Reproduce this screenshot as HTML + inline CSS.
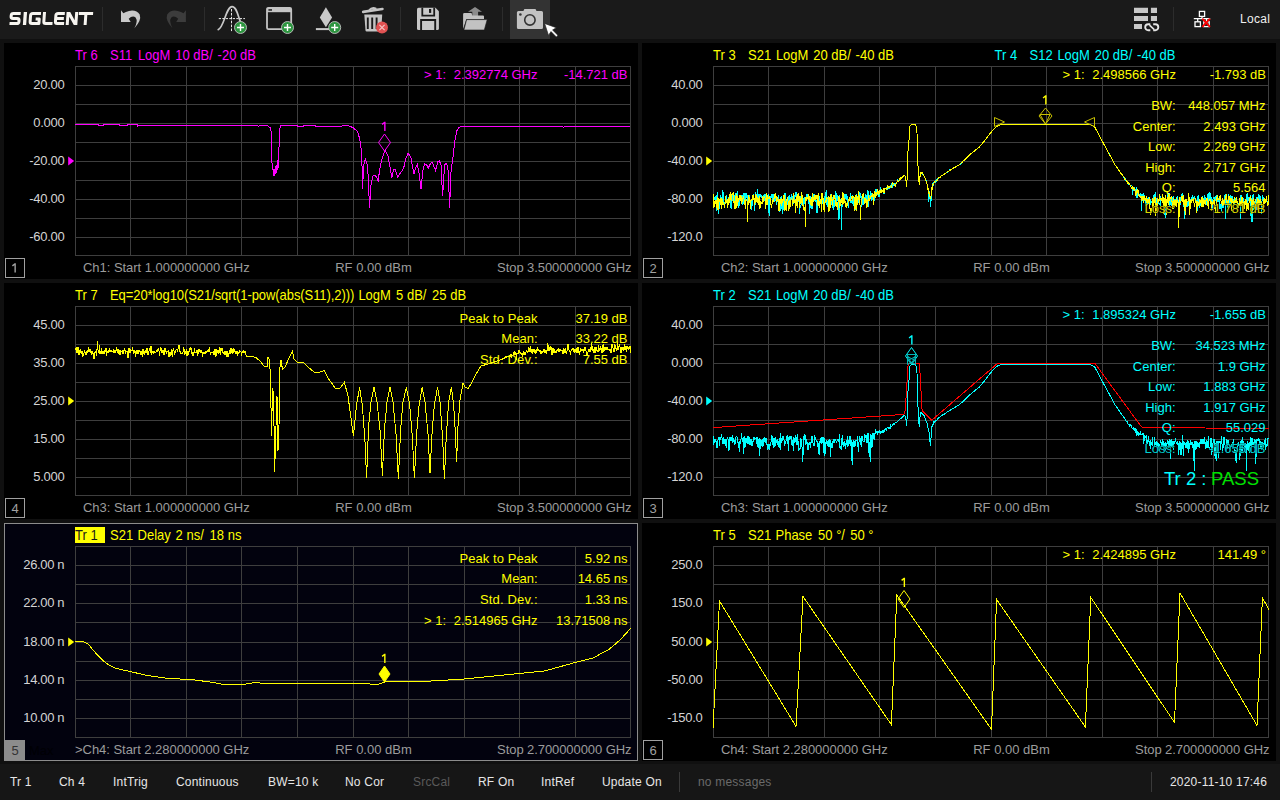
<!DOCTYPE html>
<html><head><meta charset="utf-8"><title>SIGLENT VNA</title>
<style>
html,body{margin:0;padding:0;background:#101010;overflow:hidden}
svg{display:block;font-family:'Liberation Sans',sans-serif}
text{white-space:pre}
</style></head><body>
<svg width="1280" height="800" viewBox="0 0 1280 800">
<rect x="0" y="0" width="1280" height="800" fill="#101010"/>
<rect x="0" y="0" width="1280" height="39" fill="#1a1a1a"/>
<rect x="0" y="764" width="1280" height="36" fill="#161616"/>
<rect x="4" y="43" width="634" height="236" fill="#000"/>
<rect x="642" y="43" width="634" height="236" fill="#000"/>
<rect x="4" y="283" width="634" height="236" fill="#000"/>
<rect x="642" y="283" width="634" height="236" fill="#000"/>
<rect x="4.5" y="523.5" width="633" height="237" fill="#02020e" stroke="#8c8c8c" shape-rendering="crispEdges"/>
<rect x="642" y="523" width="634" height="238" fill="#000"/>
<path d="M75.5,66V256 M130.5,66V256 M186.5,66V256 M241.5,66V256 M297.5,66V256 M353.5,66V256 M408.5,66V256 M464.5,66V256 M519.5,66V256 M575.5,66V256 M630.5,66V256 M75,66.5H631 M75,85.5H631 M75,104.5H631 M75,123.5H631 M75,142.5H631 M75,161.5H631 M75,180.5H631 M75,199.5H631 M75,218.5H631 M75,237.5H631 M75,255.5H631" stroke="#3e3e3e" stroke-width="1" fill="none" shape-rendering="crispEdges"/>
<path d="M713.5,66V256 M768.5,66V256 M824.5,66V256 M879.5,66V256 M935.5,66V256 M991.5,66V256 M1046.5,66V256 M1102.5,66V256 M1157.5,66V256 M1213.5,66V256 M1268.5,66V256 M713,66.5H1269 M713,85.5H1269 M713,104.5H1269 M713,123.5H1269 M713,142.5H1269 M713,161.5H1269 M713,180.5H1269 M713,199.5H1269 M713,218.5H1269 M713,237.5H1269 M713,255.5H1269" stroke="#3e3e3e" stroke-width="1" fill="none" shape-rendering="crispEdges"/>
<path d="M75.5,306V496 M130.5,306V496 M186.5,306V496 M241.5,306V496 M297.5,306V496 M353.5,306V496 M408.5,306V496 M464.5,306V496 M519.5,306V496 M575.5,306V496 M630.5,306V496 M75,306.5H631 M75,325.5H631 M75,344.5H631 M75,363.5H631 M75,382.5H631 M75,401.5H631 M75,420.5H631 M75,439.5H631 M75,458.5H631 M75,477.5H631 M75,495.5H631" stroke="#3e3e3e" stroke-width="1" fill="none" shape-rendering="crispEdges"/>
<path d="M713.5,306V496 M768.5,306V496 M824.5,306V496 M879.5,306V496 M935.5,306V496 M991.5,306V496 M1046.5,306V496 M1102.5,306V496 M1157.5,306V496 M1213.5,306V496 M1268.5,306V496 M713,306.5H1269 M713,325.5H1269 M713,344.5H1269 M713,363.5H1269 M713,382.5H1269 M713,401.5H1269 M713,420.5H1269 M713,439.5H1269 M713,458.5H1269 M713,477.5H1269 M713,495.5H1269" stroke="#3e3e3e" stroke-width="1" fill="none" shape-rendering="crispEdges"/>
<path d="M75.5,546V738 M130.5,546V738 M186.5,546V738 M241.5,546V738 M297.5,546V738 M353.5,546V738 M408.5,546V738 M464.5,546V738 M519.5,546V738 M575.5,546V738 M630.5,546V738 M75,546.5H631 M75,565.5H631 M75,584.5H631 M75,603.5H631 M75,622.5H631 M75,642.5H631 M75,661.5H631 M75,680.5H631 M75,699.5H631 M75,718.5H631 M75,737.5H631" stroke="#3e3e3e" stroke-width="1" fill="none" shape-rendering="crispEdges"/>
<path d="M713.5,546V738 M768.5,546V738 M824.5,546V738 M879.5,546V738 M935.5,546V738 M991.5,546V738 M1046.5,546V738 M1102.5,546V738 M1157.5,546V738 M1213.5,546V738 M1268.5,546V738 M713,546.5H1269 M713,565.5H1269 M713,584.5H1269 M713,603.5H1269 M713,622.5H1269 M713,642.5H1269 M713,661.5H1269 M713,680.5H1269 M713,699.5H1269 M713,718.5H1269 M713,737.5H1269" stroke="#3e3e3e" stroke-width="1" fill="none" shape-rendering="crispEdges"/>
<rect x="5.5" y="258.5" width="19" height="19" fill="none" stroke="#a0a0a0" shape-rendering="crispEdges"/>
<path d="M12.40,265.90L15.10,263.70M15.15,263.20V272.50" fill="none" stroke="#a0a0a0" stroke-width="1.4"/>
<rect x="643.5" y="258.5" width="19" height="19" fill="none" stroke="#a0a0a0" shape-rendering="crispEdges"/>
<text x="653" y="272.5" fill="#a0a0a0" font-size="13" text-anchor="middle" >2</text>
<rect x="5.5" y="498.5" width="19" height="19" fill="none" stroke="#a0a0a0" shape-rendering="crispEdges"/>
<text x="15" y="512.5" fill="#a0a0a0" font-size="13" text-anchor="middle" >4</text>
<rect x="643.5" y="498.5" width="19" height="19" fill="none" stroke="#a0a0a0" shape-rendering="crispEdges"/>
<text x="653" y="512.5" fill="#a0a0a0" font-size="13" text-anchor="middle" >3</text>
<rect x="5" y="740" width="20" height="20" fill="#8c8c8c"/>
<text x="15" y="755" fill="#333" font-size="13" text-anchor="middle" >5</text>
<rect x="643.5" y="740.5" width="19" height="19" fill="none" stroke="#a0a0a0" shape-rendering="crispEdges"/>
<text x="653" y="754.5" fill="#a0a0a0" font-size="13" text-anchor="middle" >6</text>
<text x="29" y="755" fill="#000004" font-size="13" text-anchor="start" >Max</text>
<text x="64.5" y="89" fill="#d4d4d4" font-size="13" text-anchor="end" letter-spacing="-0.25">20.00</text>
<text x="64.5" y="127" fill="#d4d4d4" font-size="13" text-anchor="end" letter-spacing="-0.25">0.000</text>
<text x="64.5" y="165" fill="#d4d4d4" font-size="13" text-anchor="end" letter-spacing="-0.25">-20.00</text>
<text x="64.5" y="203" fill="#d4d4d4" font-size="13" text-anchor="end" letter-spacing="-0.25">-40.00</text>
<text x="64.5" y="241" fill="#d4d4d4" font-size="13" text-anchor="end" letter-spacing="-0.25">-60.00</text>
<path d="M68.2,156.5L74.2,161L68.2,165.5Z" fill="#ff00ff"/>
<text x="702.5" y="89" fill="#d4d4d4" font-size="13" text-anchor="end" letter-spacing="-0.25">40.00</text>
<text x="702.5" y="127" fill="#d4d4d4" font-size="13" text-anchor="end" letter-spacing="-0.25">0.000</text>
<text x="702.5" y="165" fill="#d4d4d4" font-size="13" text-anchor="end" letter-spacing="-0.25">-40.00</text>
<text x="702.5" y="203" fill="#d4d4d4" font-size="13" text-anchor="end" letter-spacing="-0.25">-80.00</text>
<text x="702.5" y="241" fill="#d4d4d4" font-size="13" text-anchor="end" letter-spacing="-0.25">-120.0</text>
<path d="M706.2,156.5L712.2,161L706.2,165.5Z" fill="#ffff00"/>
<text x="64.5" y="329" fill="#d4d4d4" font-size="13" text-anchor="end" letter-spacing="-0.25">45.00</text>
<text x="64.5" y="367" fill="#d4d4d4" font-size="13" text-anchor="end" letter-spacing="-0.25">35.00</text>
<text x="64.5" y="405" fill="#d4d4d4" font-size="13" text-anchor="end" letter-spacing="-0.25">25.00</text>
<text x="64.5" y="443" fill="#d4d4d4" font-size="13" text-anchor="end" letter-spacing="-0.25">15.00</text>
<text x="64.5" y="481" fill="#d4d4d4" font-size="13" text-anchor="end" letter-spacing="-0.25">5.000</text>
<path d="M68.2,396.5L74.2,401L68.2,405.5Z" fill="#ffff00"/>
<text x="702.5" y="329" fill="#d4d4d4" font-size="13" text-anchor="end" letter-spacing="-0.25">40.00</text>
<text x="702.5" y="367" fill="#d4d4d4" font-size="13" text-anchor="end" letter-spacing="-0.25">0.000</text>
<text x="702.5" y="405" fill="#d4d4d4" font-size="13" text-anchor="end" letter-spacing="-0.25">-40.00</text>
<text x="702.5" y="443" fill="#d4d4d4" font-size="13" text-anchor="end" letter-spacing="-0.25">-80.00</text>
<text x="702.5" y="481" fill="#d4d4d4" font-size="13" text-anchor="end" letter-spacing="-0.25">-120.0</text>
<path d="M706.2,396.5L712.2,401L706.2,405.5Z" fill="#00ffff"/>
<text x="64.5" y="569" fill="#d4d4d4" font-size="13" text-anchor="end" textLength="41.2" lengthAdjust="spacing">26.00 n</text>
<text x="64.5" y="607" fill="#d4d4d4" font-size="13" text-anchor="end" textLength="41.2" lengthAdjust="spacing">22.00 n</text>
<text x="64.5" y="646" fill="#d4d4d4" font-size="13" text-anchor="end" textLength="41.2" lengthAdjust="spacing">18.00 n</text>
<text x="64.5" y="684" fill="#d4d4d4" font-size="13" text-anchor="end" textLength="41.2" lengthAdjust="spacing">14.00 n</text>
<text x="64.5" y="722" fill="#d4d4d4" font-size="13" text-anchor="end" textLength="41.2" lengthAdjust="spacing">10.00 n</text>
<path d="M68.2,637.5L74.2,642L68.2,646.5Z" fill="#ffff00"/>
<text x="702.5" y="569" fill="#d4d4d4" font-size="13" text-anchor="end" letter-spacing="-0.25">250.0</text>
<text x="702.5" y="607" fill="#d4d4d4" font-size="13" text-anchor="end" letter-spacing="-0.25">150.0</text>
<text x="702.5" y="646" fill="#d4d4d4" font-size="13" text-anchor="end" letter-spacing="-0.25">50.00</text>
<text x="702.5" y="684" fill="#d4d4d4" font-size="13" text-anchor="end" letter-spacing="-0.25">-50.00</text>
<text x="702.5" y="722" fill="#d4d4d4" font-size="13" text-anchor="end" letter-spacing="-0.25">-150.0</text>
<path d="M706.2,637.5L712.2,642L706.2,646.5Z" fill="#ffff00"/>
<text x="83" y="271.6" fill="#9c9c9c" font-size="13" text-anchor="start" textLength="166.7" lengthAdjust="spacing">Ch1: Start 1.000000000 GHz</text>
<text x="373.5" y="271.6" fill="#9c9c9c" font-size="13" text-anchor="middle" >RF 0.00 dBm</text>
<text x="631.5" y="271.6" fill="#9c9c9c" font-size="13" text-anchor="end" textLength="134.4" lengthAdjust="spacing">Stop 3.500000000 GHz</text>
<text x="721" y="271.6" fill="#9c9c9c" font-size="13" text-anchor="start" textLength="166.7" lengthAdjust="spacing">Ch2: Start 1.000000000 GHz</text>
<text x="1011.5" y="271.6" fill="#9c9c9c" font-size="13" text-anchor="middle" >RF 0.00 dBm</text>
<text x="1269.5" y="271.6" fill="#9c9c9c" font-size="13" text-anchor="end" textLength="134.4" lengthAdjust="spacing">Stop 3.500000000 GHz</text>
<text x="83" y="511.6" fill="#9c9c9c" font-size="13" text-anchor="start" textLength="166.7" lengthAdjust="spacing">Ch3: Start 1.000000000 GHz</text>
<text x="373.5" y="511.6" fill="#9c9c9c" font-size="13" text-anchor="middle" >RF 0.00 dBm</text>
<text x="631.5" y="511.6" fill="#9c9c9c" font-size="13" text-anchor="end" textLength="134.4" lengthAdjust="spacing">Stop 3.500000000 GHz</text>
<text x="721" y="511.6" fill="#9c9c9c" font-size="13" text-anchor="start" textLength="166.7" lengthAdjust="spacing">Ch3: Start 1.000000000 GHz</text>
<text x="1011.5" y="511.6" fill="#9c9c9c" font-size="13" text-anchor="middle" >RF 0.00 dBm</text>
<text x="1269.5" y="511.6" fill="#9c9c9c" font-size="13" text-anchor="end" textLength="134.4" lengthAdjust="spacing">Stop 3.500000000 GHz</text>
<text x="75" y="753.6" fill="#9c9c9c" font-size="13" text-anchor="start" textLength="174.29999999999998" lengthAdjust="spacing">&gt;Ch4: Start 2.280000000 GHz</text>
<text x="373.5" y="753.6" fill="#9c9c9c" font-size="13" text-anchor="middle" >RF 0.00 dBm</text>
<text x="631.5" y="753.6" fill="#9c9c9c" font-size="13" text-anchor="end" textLength="134.4" lengthAdjust="spacing">Stop 2.700000000 GHz</text>
<text x="721" y="753.6" fill="#9c9c9c" font-size="13" text-anchor="start" textLength="166.7" lengthAdjust="spacing">Ch4: Start 2.280000000 GHz</text>
<text x="1011.5" y="753.6" fill="#9c9c9c" font-size="13" text-anchor="middle" >RF 0.00 dBm</text>
<text x="1269.5" y="753.6" fill="#9c9c9c" font-size="13" text-anchor="end" textLength="134.4" lengthAdjust="spacing">Stop 2.700000000 GHz</text>
<polyline points="75.0,124.5 98.0,124.5 98.5,125.5 103.5,125.5 104.0,124.5 119.0,124.5 119.5,125.5 127.0,125.5 127.5,124.5 137.0,124.5 137.6,126.5 138.5,125.5 257.5,125.5 258.5,126.5 259.5,125.5 267.5,125.5 268.5,126.5 270.5,128.0 271.5,134.0 272.0,163.0 272.5,168.0 273.5,171.0 274.0,176.0 274.6,169.0 275.2,174.0 275.8,166.0 276.5,173.0 277.0,165.0 277.6,170.0 278.0,160.0 278.6,168.0 279.0,147.0 279.8,144.0 280.0,128.0 281.0,125.5 297.0,125.5 297.5,126.5 303.5,126.5 304.0,125.5 315.0,125.5 315.5,126.5 340.0,126.4 345.2,125.5 349.0,126.0 353.1,127.7 357.7,131.7 359.7,138.9 361.7,153.3 362.6,188.7 363.6,165.1 365.3,159.2 366.9,162.5 368.2,175.6 369.5,207.8 371.1,183.5 372.8,176.3 374.8,175.0 376.5,176.9 378.1,180.9 379.6,170.4 382.0,158.6 385.3,150.0 387.9,155.9 390.1,167.7 391.8,177.6 393.8,169.1 395.1,169.1 397.7,176.9 400.4,173.0 403.6,168.4 405.6,159.2 408.2,153.0 410.9,157.9 412.8,167.7 413.8,174.3 415.5,167.7 417.4,164.5 419.1,173.0 421.0,188.7 422.7,171.7 424.6,163.8 426.6,164.5 428.2,168.4 430.6,163.1 432.3,162.5 435.5,170.4 437.8,161.8 439.3,160.5 441.0,165.1 442.6,196.0 443.9,175.6 445.0,164.5 446.6,163.1 448.3,171.7 449.6,207.8 450.9,173.0 452.2,162.5 453.5,153.3 454.8,140.8 456.8,131.0 458.8,127.5 462.0,126.5 562.5,126.5 563.5,127.5 564.5,126.5 630.0,126.5" fill="none" stroke="#ff00ff" stroke-width="1" shape-rendering="crispEdges" />
<polyline points="713.0,198.4 713.5,199.3 714.1,198.1 714.6,198.8 715.2,195.7 715.8,201.6 716.3,195.4 716.9,210.7 717.4,192.5 718.0,197.8 718.5,214.4 719.0,209.4 719.6,202.8 720.1,199.4 720.7,195.1 721.2,197.5 721.8,197.3 722.4,202.3 722.9,190.5 723.5,196.6 724.0,203.2 724.5,208.4 725.1,200.3 725.6,200.4 726.2,194.9 726.8,203.3 727.3,199.3 727.9,200.2 728.4,197.5 729.0,202.3 729.5,201.2 730.0,196.0 730.6,202.6 731.1,208.7 731.7,204.2 732.2,199.8 732.8,196.4 733.4,197.4 733.9,200.0 734.5,202.3 735.0,195.5 735.5,194.4 736.1,200.4 736.6,197.4 737.2,191.3 737.8,202.5 738.3,201.4 738.9,208.3 739.4,198.1 740.0,197.9 740.5,199.8 741.0,199.2 741.6,194.8 742.1,204.9 742.7,195.3 743.2,204.0 743.8,193.3 744.4,193.1 744.9,197.8 745.5,207.0 746.0,192.6 746.5,196.8 747.1,195.4 747.6,202.2 748.2,196.6 748.8,203.0 749.3,195.0 749.9,202.4 750.4,203.5 751.0,202.2 751.5,209.6 752.0,200.8 752.6,206.0 753.1,194.4 753.7,197.3 754.2,198.2 754.8,211.0 755.4,193.9 755.9,192.8 756.5,197.5 757.0,196.7 757.5,189.4 758.1,198.5 758.6,194.2 759.2,196.9 759.8,193.9 760.3,197.1 760.9,194.6 761.4,195.9 762.0,198.3 762.5,200.8 763.0,198.1 763.6,197.5 764.1,194.5 764.7,200.6 765.2,198.3 765.8,195.3 766.4,196.2 766.9,197.9 767.5,203.5 768.0,199.3 768.5,193.9 769.1,216.1 769.6,197.2 770.2,204.5 770.8,197.3 771.3,194.5 771.9,197.4 772.4,200.0 773.0,194.0 773.5,200.5 774.0,201.9 774.6,199.2 775.1,195.0 775.7,193.2 776.2,204.7 776.8,202.7 777.4,200.3 777.9,199.4 778.5,195.3 779.0,199.6 779.5,211.2 780.1,210.3 780.6,198.5 781.2,195.9 781.8,205.3 782.3,214.0 782.9,203.0 783.4,209.8 784.0,200.1 784.5,197.6 785.0,193.0 785.6,204.1 786.1,204.8 786.7,199.4 787.2,204.5 787.8,201.3 788.4,199.1 788.9,196.5 789.5,196.0 790.0,207.2 790.5,196.6 791.1,199.7 791.6,194.2 792.2,198.6 792.8,195.8 793.3,199.5 793.9,204.1 794.4,195.6 795.0,196.9 795.5,194.3 796.0,192.2 796.6,196.1 797.1,194.2 797.7,201.1 798.2,199.8 798.8,196.4 799.4,213.6 799.9,208.7 800.5,204.5 801.0,196.1 801.5,205.1 802.1,196.9 802.6,197.1 803.2,199.2 803.8,207.2 804.3,199.0 804.9,196.8 805.4,199.2 806.0,198.5 806.5,201.0 807.0,194.3 807.6,195.1 808.1,198.9 808.7,204.4 809.2,199.6 809.8,213.5 810.4,198.9 810.9,196.0 811.5,199.7 812.0,209.2 812.5,200.7 813.1,193.8 813.6,199.7 814.2,200.0 814.8,194.4 815.3,202.2 815.9,198.0 816.4,205.5 817.0,213.1 817.5,203.3 818.0,201.9 818.6,198.2 819.1,196.6 819.7,199.1 820.2,204.1 820.8,200.5 821.4,200.7 821.9,205.7 822.5,197.8 823.0,199.3 823.5,198.0 824.1,203.0 824.6,195.8 825.2,201.5 825.8,194.1 826.3,190.2 826.9,205.2 827.4,196.8 828.0,207.3 828.5,200.1 829.0,205.9 829.6,197.6 830.1,203.3 830.7,194.4 831.2,205.4 831.8,196.9 832.4,197.8 832.9,207.9 833.5,209.5 834.0,199.9 834.5,206.9 835.1,203.5 835.6,191.5 836.2,205.8 836.8,193.0 837.3,197.0 837.9,200.2 838.4,201.3 839.0,220.1 839.5,195.5 840.0,199.6 840.6,200.7 841.1,204.2 841.7,230.2 842.2,195.4 842.8,195.3 843.4,201.6 843.9,200.4 844.5,195.2 845.0,194.3 845.5,196.3 846.1,199.9 846.6,194.2 847.2,196.7 847.8,200.3 848.3,208.2 848.9,200.7 849.4,199.4 850.0,199.0 850.5,193.5 851.0,202.7 851.6,199.6 852.1,203.9 852.7,196.2 853.2,196.9 853.8,205.6 854.4,198.2 854.9,200.3 855.5,200.5 856.0,209.9 856.5,194.3 857.1,203.1 857.6,196.2 858.2,195.5 858.8,203.1 859.3,198.9 859.9,192.2 860.4,197.3 861.0,197.1 861.5,207.4 862.0,196.5 862.6,204.4 863.1,204.5 863.7,200.4 864.2,196.9 864.8,202.5 865.4,201.4 865.9,194.0 866.5,197.5 867.0,200.4 867.5,190.7 868.1,191.3 868.6,206.6 869.2,195.4 869.8,199.9 870.3,197.2 870.9,191.3 871.4,200.3 872.0,200.5 872.5,196.7 873.0,200.0 873.6,205.1 874.1,200.6 874.7,200.4 875.2,193.5 875.8,188.6 876.4,194.6 876.9,189.4 877.5,192.1 878.0,195.3 878.5,194.1 879.1,197.0 879.6,192.5 880.2,189.6 880.8,188.0 881.3,190.9 881.9,191.4 882.4,192.0 883.0,191.8 883.5,187.9 884.0,193.8 884.6,191.5 885.1,188.9 885.7,188.6 886.2,188.1 886.8,187.5 887.4,188.1 887.9,189.3 888.5,187.0 889.0,189.0 889.5,187.8 890.1,186.2 890.6,187.8 891.2,184.0 891.8,185.4 892.3,187.0 892.9,185.6 893.4,184.8 894.0,184.1 894.5,183.5 895.0,184.0 895.6,183.5 896.1,183.8 896.7,182.6 897.2,182.0 897.8,179.8 898.4,180.1 898.9,180.0 899.5,179.9 900.0,178.0 900.5,178.6 901.1,178.5 901.6,178.1 902.2,177.0 902.8,176.6 903.3,176.1 903.9,175.6 904.4,175.2 905.0,175.8 905.5,178.4 906.0,179.6 906.6,186.5 907.1,178.7 907.7,154.9 908.2,148.7 908.8,142.5 909.4,134.9 909.9,126.3 910.5,125.7 911.0,125.1 911.5,124.6 912.1,124.5 912.6,124.5 913.2,124.5 913.8,124.5 914.3,124.5 914.9,124.5 915.4,124.9 916.0,125.7 916.5,126.5 917.0,133.1 917.6,155.0 918.1,168.8 918.7,178.0 919.2,185.0 919.8,179.2 920.4,172.2 920.9,172.0 921.5,172.8 922.0,173.1 922.5,174.5 923.1,174.3 923.6,174.9 924.2,176.0 924.8,177.9 925.3,178.9 925.9,180.0 926.4,182.4 927.0,183.8 927.5,186.6 928.0,188.1 928.6,201.7 929.1,198.4 929.7,190.9 930.2,199.2 930.8,206.5 931.4,191.0 931.9,187.8 932.5,184.5 933.0,185.8 933.5,183.3 934.1,182.3 934.6,182.3 935.2,180.9 935.8,182.3 936.3,180.4 936.9,179.2 937.4,178.3 938.0,178.2 938.5,177.9 939.0,177.8 939.6,177.9 940.1,176.4 940.7,176.3 941.2,176.1 941.8,175.7 942.4,175.3 942.9,175.4 943.5,174.3 944.0,174.4 944.5,173.6 945.1,173.9 945.6,173.4 946.2,172.5 946.8,173.0 947.3,171.8 947.9,171.4 948.4,171.3 949.0,171.1 949.5,170.0 950.0,170.2 950.6,170.1 951.1,169.8 951.7,169.3 952.2,169.1 952.8,168.6 953.4,168.3 953.9,167.8 954.5,167.6 955.0,167.3 955.5,166.9 956.1,166.7 956.6,166.2 957.2,165.9 957.8,165.6 958.3,165.3 958.9,165.0 959.4,164.6 960.0,164.4 960.5,163.7 961.0,163.3 961.6,162.7 962.2,162.2 962.7,161.5 963.2,161.1 963.8,160.5 964.4,160.1 964.9,159.5 965.5,159.1 966.0,158.4 966.5,157.9 967.1,157.3 967.7,156.9 968.2,156.3 968.8,155.8 969.3,155.3 969.9,154.7 970.4,154.2 971.0,153.8 971.5,153.4 972.0,152.9 972.6,152.5 973.2,152.0 973.7,151.5 974.2,151.1 974.8,150.7 975.4,150.2 975.9,149.8 976.5,149.3 977.0,148.9 977.5,148.5 978.1,148.0 978.7,147.6 979.2,147.1 979.8,146.4 980.3,145.8 980.9,145.1 981.4,144.5 982.0,143.8 982.5,143.2 983.0,142.6 983.6,141.9 984.2,141.3 984.7,140.6 985.2,139.8 985.8,139.1 986.4,138.3 986.9,137.6 987.5,136.9 988.0,136.1 988.5,135.4 989.1,134.6 989.7,133.9 990.2,133.3 990.8,132.7 991.3,132.0 991.9,131.4 992.4,130.8 993.0,130.1 993.5,129.5 994.0,128.9 994.6,128.2 995.2,127.7 995.7,127.3 996.2,126.9 996.8,126.5 997.4,126.1 997.9,125.7 998.5,125.4 999.0,125.2 999.5,125.1 1000.1,124.9 1000.7,124.8 1001.2,124.7 1001.8,124.5 1002.3,124.5 1002.9,124.5 1003.4,124.5 1004.0,124.5 1004.5,124.5 1005.0,124.5 1005.6,124.5 1006.2,124.5 1006.7,124.5 1007.2,124.5 1007.8,124.5 1008.4,124.5 1008.9,124.5 1009.5,124.5 1010.0,124.5 1010.5,124.5 1011.1,124.5 1011.7,124.5 1012.2,124.5 1012.8,124.5 1013.3,124.5 1013.9,124.5 1014.4,124.5 1015.0,124.5 1015.5,124.5 1016.0,124.5 1016.6,124.5 1017.2,124.5 1017.7,124.5 1018.2,124.5 1018.8,124.5 1019.4,124.5 1019.9,124.5 1020.5,124.5 1021.0,124.5 1021.5,124.5 1022.1,124.5 1022.7,124.5 1023.2,124.5 1023.8,124.5 1024.3,124.5 1024.8,124.5 1025.4,124.5 1026.0,124.5 1026.5,124.5 1027.0,124.5 1027.6,124.5 1028.2,124.5 1028.7,124.5 1029.2,124.5 1029.8,124.5 1030.3,124.5 1030.9,124.5 1031.5,124.5 1032.0,124.5 1032.5,124.5 1033.1,124.5 1033.7,124.5 1034.2,124.5 1034.8,124.5 1035.3,124.5 1035.8,124.5 1036.4,124.5 1037.0,124.5 1037.5,124.5 1038.0,124.5 1038.6,124.5 1039.2,124.5 1039.7,124.5 1040.2,124.5 1040.8,124.5 1041.3,124.5 1041.9,124.5 1042.5,124.5 1043.0,124.5 1043.5,124.5 1044.1,124.5 1044.7,124.5 1045.2,124.5 1045.8,124.5 1046.3,124.5 1046.8,124.5 1047.4,124.5 1048.0,124.5 1048.5,124.5 1049.0,124.5 1049.6,124.5 1050.2,124.5 1050.7,124.5 1051.2,124.5 1051.8,124.5 1052.3,124.5 1052.9,124.5 1053.5,124.5 1054.0,124.5 1054.5,124.5 1055.1,124.5 1055.7,124.5 1056.2,124.5 1056.8,124.5 1057.3,124.5 1057.8,124.5 1058.4,124.5 1059.0,124.5 1059.5,124.5 1060.0,124.5 1060.6,124.5 1061.2,124.5 1061.7,124.5 1062.2,124.5 1062.8,124.5 1063.3,124.5 1063.9,124.5 1064.5,124.5 1065.0,124.5 1065.5,124.5 1066.1,124.5 1066.7,124.5 1067.2,124.5 1067.8,124.5 1068.3,124.5 1068.8,124.5 1069.4,124.5 1070.0,124.5 1070.5,124.5 1071.0,124.5 1071.6,124.5 1072.2,124.5 1072.7,124.5 1073.2,124.5 1073.8,124.5 1074.3,124.5 1074.9,124.5 1075.5,124.5 1076.0,124.5 1076.5,124.5 1077.1,124.5 1077.7,124.5 1078.2,124.5 1078.8,124.5 1079.3,124.5 1079.8,124.5 1080.4,124.5 1081.0,124.5 1081.5,124.5 1082.0,124.5 1082.6,124.5 1083.2,124.5 1083.7,124.5 1084.2,124.5 1084.8,124.5 1085.3,124.5 1085.9,124.5 1086.5,124.5 1087.0,124.5 1087.5,124.5 1088.1,124.5 1088.7,124.6 1089.2,124.7 1089.8,124.8 1090.3,124.9 1090.8,125.0 1091.4,125.2 1092.0,125.4 1092.5,125.6 1093.0,125.9 1093.6,126.1 1094.2,126.3 1094.7,126.9 1095.2,127.9 1095.8,129.0 1096.3,130.0 1096.9,131.0 1097.5,132.1 1098.0,133.1 1098.5,134.2 1099.1,135.2 1099.7,136.2 1100.2,137.3 1100.8,138.3 1101.3,139.4 1101.8,140.4 1102.4,141.4 1103.0,142.5 1103.5,143.5 1104.0,144.5 1104.6,145.5 1105.2,146.5 1105.7,147.5 1106.2,148.6 1106.8,149.6 1107.3,150.6 1107.9,151.6 1108.5,152.6 1109.0,153.6 1109.5,154.6 1110.1,155.7 1110.7,156.7 1111.2,157.7 1111.8,158.7 1112.3,159.8 1112.8,160.7 1113.4,161.8 1114.0,162.8 1114.5,163.7 1115.0,164.7 1115.6,165.6 1116.2,166.3 1116.7,167.4 1117.2,167.9 1117.8,168.8 1118.3,169.6 1118.9,169.8 1119.5,170.8 1120.0,171.8 1120.5,172.7 1121.1,173.3 1121.7,174.3 1122.2,175.4 1122.8,176.0 1123.3,176.3 1123.8,177.5 1124.4,178.8 1125.0,178.5 1125.5,180.0 1126.0,180.4 1126.6,181.2 1127.2,181.6 1127.7,183.1 1128.2,183.3 1128.8,184.3 1129.3,184.9 1129.9,184.6 1130.5,186.0 1131.0,185.6 1131.5,185.7 1132.1,186.4 1132.7,195.3 1133.2,186.9 1133.8,190.7 1134.3,188.5 1134.8,187.8 1135.4,191.7 1136.0,190.3 1136.5,186.9 1137.0,197.7 1137.6,192.7 1138.2,191.6 1138.7,192.8 1139.2,196.3 1139.8,195.3 1140.3,193.1 1140.9,195.3 1141.5,210.8 1142.0,193.6 1142.5,201.2 1143.1,193.3 1143.7,196.4 1144.2,194.8 1144.8,199.7 1145.3,199.1 1145.8,206.1 1146.4,204.8 1147.0,198.5 1147.5,201.4 1148.0,204.3 1148.6,197.9 1149.2,198.1 1149.7,202.2 1150.2,199.2 1150.8,205.2 1151.3,201.3 1151.9,203.2 1152.5,197.6 1153.0,206.8 1153.5,196.1 1154.1,195.4 1154.7,198.3 1155.2,192.2 1155.8,195.2 1156.3,200.9 1156.8,206.0 1157.4,198.7 1158.0,200.9 1158.5,201.4 1159.0,203.8 1159.6,203.3 1160.2,206.4 1160.7,196.4 1161.2,198.5 1161.8,201.0 1162.3,196.2 1162.9,201.5 1163.5,202.1 1164.0,205.7 1164.5,200.4 1165.1,217.9 1165.7,201.9 1166.2,200.1 1166.8,205.3 1167.3,192.8 1167.8,203.2 1168.4,192.9 1169.0,196.6 1169.5,192.7 1170.0,205.7 1170.6,198.7 1171.2,196.4 1171.7,200.3 1172.2,208.6 1172.8,198.0 1173.3,197.1 1173.9,200.8 1174.5,204.8 1175.0,199.1 1175.5,199.6 1176.1,200.7 1176.7,197.2 1177.2,197.4 1177.8,195.9 1178.3,206.3 1178.8,209.2 1179.4,202.2 1180.0,196.6 1180.5,205.2 1181.0,196.7 1181.6,195.9 1182.2,192.9 1182.7,199.1 1183.2,197.9 1183.8,198.7 1184.3,218.8 1184.9,203.4 1185.5,204.2 1186.0,198.7 1186.5,207.1 1187.1,201.2 1187.7,207.3 1188.2,199.2 1188.8,205.8 1189.3,198.3 1189.8,202.6 1190.4,202.0 1191.0,199.1 1191.5,197.1 1192.0,201.5 1192.6,195.0 1193.2,198.5 1193.7,199.8 1194.2,196.3 1194.8,196.6 1195.3,201.4 1195.9,201.9 1196.5,199.6 1197.0,211.1 1197.5,204.1 1198.1,194.7 1198.7,198.6 1199.2,204.6 1199.8,207.7 1200.3,204.1 1200.8,203.1 1201.4,196.6 1202.0,200.4 1202.5,195.8 1203.0,202.3 1203.6,198.3 1204.2,202.9 1204.7,194.7 1205.2,199.1 1205.8,202.8 1206.3,203.5 1206.9,199.6 1207.5,193.8 1208.0,201.9 1208.6,199.0 1209.1,191.9 1209.7,201.1 1210.2,199.1 1210.8,193.0 1211.3,202.4 1211.8,202.0 1212.4,209.4 1213.0,199.0 1213.5,198.1 1214.1,197.2 1214.6,197.7 1215.2,201.1 1215.7,196.4 1216.2,195.9 1216.8,202.6 1217.3,200.6 1217.9,197.4 1218.5,200.8 1219.0,199.9 1219.6,208.8 1220.1,203.9 1220.7,204.5 1221.2,211.7 1221.8,201.4 1222.3,201.5 1222.8,208.2 1223.4,206.5 1224.0,200.4 1224.5,199.7 1225.1,194.3 1225.6,219.2 1226.2,197.1 1226.7,198.4 1227.2,200.4 1227.8,207.8 1228.3,194.3 1228.9,196.8 1229.5,201.7 1230.0,204.1 1230.6,195.5 1231.1,201.1 1231.7,196.2 1232.2,200.0 1232.8,195.9 1233.3,203.8 1233.8,204.4 1234.4,201.9 1235.0,202.9 1235.5,201.6 1236.1,196.9 1236.6,200.4 1237.2,202.3 1237.7,208.6 1238.2,203.5 1238.8,205.2 1239.3,201.1 1239.9,201.9 1240.5,218.5 1241.0,194.6 1241.6,199.9 1242.1,203.8 1242.7,200.0 1243.2,201.0 1243.8,198.1 1244.3,208.7 1244.8,204.2 1245.4,201.8 1246.0,202.1 1246.5,198.9 1247.1,193.5 1247.6,203.1 1248.2,197.2 1248.7,199.3 1249.2,197.8 1249.8,199.4 1250.3,195.5 1250.9,215.5 1251.5,198.0 1252.0,222.2 1252.6,202.0 1253.1,193.6 1253.7,209.6 1254.2,201.7 1254.8,202.5 1255.3,201.9 1255.8,203.3 1256.4,210.2 1257.0,197.0 1257.5,200.5 1258.1,207.8 1258.6,194.8 1259.2,195.7 1259.7,202.0 1260.2,197.1 1260.8,196.4 1261.3,214.3 1261.9,202.7 1262.5,195.5 1263.0,198.9 1263.6,197.9 1264.1,198.2 1264.7,200.0 1265.2,203.0 1265.8,202.9 1266.3,200.9 1266.8,200.2 1267.4,202.8 1268.0,201.3 1268.5,203.1" fill="none" stroke="#00ffff" stroke-width="1" shape-rendering="crispEdges" />
<polyline points="713.0,194.0 713.5,208.3 714.1,201.1 714.6,206.9 715.2,200.7 715.8,200.5 716.3,208.1 716.9,201.0 717.4,197.4 718.0,210.4 718.5,199.0 719.0,198.7 719.6,201.7 720.1,201.7 720.7,198.3 721.2,208.6 721.8,197.7 722.4,200.8 722.9,205.3 723.5,202.3 724.0,204.7 724.5,207.6 725.1,203.0 725.6,196.4 726.2,201.8 726.8,202.8 727.3,199.5 727.9,207.5 728.4,197.7 729.0,203.8 729.5,194.8 730.0,194.2 730.6,193.1 731.1,201.0 731.7,196.4 732.2,193.3 732.8,194.1 733.4,192.5 733.9,202.1 734.5,201.5 735.0,208.9 735.5,205.1 736.1,194.0 736.6,207.6 737.2,205.8 737.8,196.5 738.3,201.1 738.9,200.7 739.4,195.3 740.0,195.2 740.5,201.3 741.0,196.3 741.6,204.1 742.1,201.3 742.7,199.4 743.2,196.4 743.8,198.5 744.4,199.5 744.9,203.7 745.5,208.5 746.0,199.8 746.5,199.4 747.1,200.9 747.6,221.6 748.2,196.9 748.8,195.7 749.3,198.0 749.9,200.7 750.4,209.2 751.0,200.4 751.5,199.7 752.0,200.0 752.6,195.3 753.1,195.5 753.7,200.1 754.2,198.2 754.8,203.2 755.4,202.2 755.9,193.9 756.5,201.7 757.0,196.6 757.5,199.7 758.1,203.3 758.6,204.2 759.2,196.0 759.8,208.0 760.3,207.5 760.9,201.1 761.4,203.5 762.0,203.7 762.5,198.5 763.0,196.5 763.6,202.0 764.1,196.2 764.7,197.4 765.2,198.3 765.8,209.2 766.4,198.3 766.9,193.2 767.5,205.0 768.0,198.8 768.5,197.5 769.1,198.0 769.6,197.2 770.2,199.0 770.8,202.7 771.3,208.0 771.9,204.6 772.4,202.9 773.0,200.0 773.5,200.9 774.0,198.6 774.6,194.8 775.1,195.6 775.7,192.9 776.2,201.6 776.8,196.3 777.4,201.3 777.9,197.3 778.5,205.0 779.0,210.9 779.5,201.2 780.1,199.1 780.6,204.2 781.2,198.4 781.8,206.0 782.3,199.3 782.9,199.6 783.4,201.3 784.0,195.0 784.5,198.3 785.0,210.7 785.6,201.5 786.1,211.0 786.7,201.4 787.2,197.4 787.8,198.4 788.4,205.8 788.9,210.6 789.5,200.3 790.0,207.7 790.5,200.4 791.1,198.6 791.6,199.0 792.2,199.1 792.8,205.5 793.3,193.3 793.9,203.3 794.4,200.0 795.0,203.0 795.5,213.3 796.0,199.4 796.6,205.8 797.1,194.4 797.7,207.9 798.2,193.5 798.8,196.4 799.4,208.4 799.9,197.8 800.5,198.6 801.0,203.9 801.5,192.4 802.1,195.9 802.6,197.6 803.2,209.6 803.8,205.4 804.3,210.0 804.9,206.8 805.4,227.2 806.0,197.3 806.5,199.7 807.0,198.7 807.6,196.8 808.1,199.5 808.7,195.5 809.2,196.3 809.8,202.4 810.4,199.2 810.9,204.6 811.5,196.9 812.0,206.3 812.5,193.5 813.1,201.5 813.6,197.0 814.2,200.2 814.8,194.9 815.3,196.3 815.9,199.3 816.4,197.8 817.0,195.0 817.5,200.1 818.0,205.3 818.6,193.2 819.1,208.1 819.7,202.1 820.2,200.7 820.8,199.7 821.4,212.1 821.9,192.6 822.5,197.7 823.0,199.5 823.5,197.6 824.1,212.3 824.6,203.2 825.2,200.9 825.8,202.4 826.3,200.9 826.9,197.3 827.4,198.8 828.0,198.0 828.5,195.7 829.0,212.0 829.6,197.0 830.1,208.3 830.7,197.3 831.2,194.2 831.8,198.4 832.4,205.5 832.9,200.3 833.5,194.7 834.0,199.5 834.5,194.8 835.1,198.2 835.6,202.5 836.2,207.1 836.8,201.6 837.3,209.5 837.9,203.7 838.4,196.7 839.0,196.7 839.5,207.6 840.0,205.9 840.6,200.2 841.1,202.9 841.7,198.2 842.2,204.5 842.8,193.2 843.4,193.5 843.9,204.1 844.5,197.7 845.0,202.6 845.5,200.9 846.1,207.7 846.6,204.5 847.2,205.9 847.8,204.4 848.3,199.8 848.9,200.8 849.4,197.4 850.0,200.5 850.5,200.8 851.0,199.1 851.6,196.5 852.1,196.3 852.7,200.6 853.2,196.8 853.8,196.5 854.4,198.6 854.9,210.8 855.5,200.6 856.0,194.8 856.5,211.3 857.1,196.6 857.6,204.9 858.2,197.2 858.8,191.5 859.3,200.4 859.9,200.6 860.4,219.9 861.0,204.8 861.5,202.0 862.0,199.0 862.6,196.9 863.1,193.3 863.7,194.7 864.2,199.9 864.8,204.1 865.4,200.4 865.9,198.8 866.5,199.4 867.0,207.5 867.5,200.5 868.1,200.5 868.6,195.0 869.2,199.7 869.8,200.6 870.3,195.8 870.9,197.5 871.4,195.5 872.0,194.8 872.5,196.0 873.0,193.6 873.6,204.6 874.1,195.7 874.7,191.5 875.2,191.9 875.8,197.9 876.4,191.9 876.9,195.0 877.5,190.0 878.0,190.7 878.5,194.5 879.1,190.0 879.6,194.0 880.2,190.2 880.8,192.5 881.3,189.0 881.9,192.0 882.4,190.7 883.0,190.2 883.5,189.1 884.0,193.3 884.6,188.8 885.1,187.9 885.7,188.8 886.2,188.4 886.8,189.1 887.4,188.3 887.9,185.9 888.5,187.4 889.0,187.1 889.5,187.1 890.1,186.3 890.6,186.5 891.2,187.2 891.8,185.7 892.3,184.1 892.9,182.8 893.4,183.9 894.0,184.0 894.5,185.0 895.0,183.7 895.6,185.5 896.1,183.8 896.7,182.4 897.2,181.3 897.8,180.9 898.4,181.0 898.9,181.0 899.5,178.6 900.0,179.5 900.5,177.8 901.1,178.3 901.6,177.6 902.2,177.7 902.8,176.4 903.3,176.3 903.9,175.4 904.4,175.4 905.0,176.2 905.5,177.5 906.0,180.8 906.6,186.9 907.1,178.1 907.7,154.9 908.2,148.7 908.8,142.5 909.4,134.9 909.9,126.3 910.5,125.7 911.0,125.1 911.5,124.6 912.1,124.5 912.6,124.5 913.2,124.5 913.8,124.5 914.3,124.5 914.9,124.5 915.4,124.9 916.0,125.7 916.5,126.5 917.0,133.1 917.6,155.0 918.1,168.9 918.7,177.7 919.2,184.7 919.8,179.0 920.4,172.1 920.9,172.2 921.5,172.5 922.0,173.5 922.5,173.1 923.1,174.5 923.6,175.1 924.2,176.1 924.8,177.0 925.3,179.5 925.9,180.5 926.4,182.1 927.0,184.0 927.5,189.5 928.0,187.8 928.6,194.2 929.1,192.3 929.7,194.5 930.2,198.3 930.8,197.2 931.4,194.0 931.9,188.4 932.5,189.0 933.0,184.6 933.5,183.6 934.1,183.1 934.6,181.4 935.2,181.1 935.8,181.5 936.3,180.3 936.9,180.7 937.4,179.6 938.0,179.1 938.5,178.7 939.0,177.3 939.6,177.6 940.1,177.3 940.7,176.7 941.2,176.0 941.8,175.7 942.4,175.6 942.9,175.2 943.5,174.6 944.0,174.3 944.5,174.3 945.1,173.4 945.6,173.6 946.2,172.9 946.8,172.0 947.3,171.7 947.9,171.5 948.4,171.2 949.0,170.9 949.5,170.4 950.0,170.5 950.6,170.1 951.1,169.5 951.7,169.2 952.2,168.9 952.8,168.6 953.4,168.4 953.9,167.8 954.5,167.6 955.0,167.4 955.5,166.7 956.1,166.5 956.6,166.4 957.2,166.0 957.8,165.6 958.3,165.3 958.9,164.9 959.4,164.6 960.0,164.2 960.5,163.7 961.0,163.1 961.6,162.6 962.2,162.2 962.7,161.6 963.2,161.0 963.8,160.5 964.4,160.0 964.9,159.5 965.5,158.9 966.0,158.4 966.5,157.9 967.1,157.4 967.7,156.9 968.2,156.3 968.8,155.8 969.3,155.2 969.9,154.7 970.4,154.2 971.0,153.7 971.5,153.3 972.0,152.9 972.6,152.5 973.2,152.0 973.7,151.6 974.2,151.1 974.8,150.6 975.4,150.2 975.9,149.8 976.5,149.3 977.0,148.9 977.5,148.5 978.1,148.0 978.7,147.6 979.2,147.1 979.8,146.4 980.3,145.8 980.9,145.1 981.4,144.5 982.0,143.9 982.5,143.2 983.0,142.6 983.6,141.9 984.2,141.3 984.7,140.6 985.2,139.8 985.8,139.1 986.4,138.3 986.9,137.6 987.5,136.9 988.0,136.1 988.5,135.4 989.1,134.6 989.7,133.9 990.2,133.3 990.8,132.7 991.3,132.0 991.9,131.4 992.4,130.8 993.0,130.1 993.5,129.5 994.0,128.9 994.6,128.2 995.2,127.7 995.7,127.3 996.2,126.9 996.8,126.5 997.4,126.1 997.9,125.7 998.5,125.4 999.0,125.2 999.5,125.1 1000.1,124.9 1000.7,124.8 1001.2,124.7 1001.8,124.5 1002.3,124.5 1002.9,124.5 1003.4,124.5 1004.0,124.5 1004.5,124.5 1005.0,124.5 1005.6,124.5 1006.2,124.5 1006.7,124.5 1007.2,124.5 1007.8,124.5 1008.4,124.5 1008.9,124.5 1009.5,124.5 1010.0,124.5 1010.5,124.5 1011.1,124.5 1011.7,124.5 1012.2,124.5 1012.8,124.5 1013.3,124.5 1013.9,124.5 1014.4,124.5 1015.0,124.5 1015.5,124.5 1016.0,124.5 1016.6,124.5 1017.2,124.5 1017.7,124.5 1018.2,124.5 1018.8,124.5 1019.4,124.5 1019.9,124.5 1020.5,124.5 1021.0,124.5 1021.5,124.5 1022.1,124.5 1022.7,124.5 1023.2,124.5 1023.8,124.5 1024.3,124.5 1024.8,124.5 1025.4,124.5 1026.0,124.5 1026.5,124.5 1027.0,124.5 1027.6,124.5 1028.2,124.5 1028.7,124.5 1029.2,124.5 1029.8,124.5 1030.3,124.5 1030.9,124.5 1031.5,124.5 1032.0,124.5 1032.5,124.5 1033.1,124.5 1033.7,124.5 1034.2,124.5 1034.8,124.5 1035.3,124.5 1035.8,124.5 1036.4,124.5 1037.0,124.5 1037.5,124.5 1038.0,124.5 1038.6,124.5 1039.2,124.5 1039.7,124.5 1040.2,124.5 1040.8,124.5 1041.3,124.5 1041.9,124.5 1042.5,124.5 1043.0,124.5 1043.5,124.5 1044.1,124.5 1044.7,124.5 1045.2,124.5 1045.8,124.5 1046.3,124.5 1046.8,124.5 1047.4,124.5 1048.0,124.5 1048.5,124.5 1049.0,124.5 1049.6,124.5 1050.2,124.5 1050.7,124.5 1051.2,124.5 1051.8,124.5 1052.3,124.5 1052.9,124.5 1053.5,124.5 1054.0,124.5 1054.5,124.5 1055.1,124.5 1055.7,124.5 1056.2,124.5 1056.8,124.5 1057.3,124.5 1057.8,124.5 1058.4,124.5 1059.0,124.5 1059.5,124.5 1060.0,124.5 1060.6,124.5 1061.2,124.5 1061.7,124.5 1062.2,124.5 1062.8,124.5 1063.3,124.5 1063.9,124.5 1064.5,124.5 1065.0,124.5 1065.5,124.5 1066.1,124.5 1066.7,124.5 1067.2,124.5 1067.8,124.5 1068.3,124.5 1068.8,124.5 1069.4,124.5 1070.0,124.5 1070.5,124.5 1071.0,124.5 1071.6,124.5 1072.2,124.5 1072.7,124.5 1073.2,124.5 1073.8,124.5 1074.3,124.5 1074.9,124.5 1075.5,124.5 1076.0,124.5 1076.5,124.5 1077.1,124.5 1077.7,124.5 1078.2,124.5 1078.8,124.5 1079.3,124.5 1079.8,124.5 1080.4,124.5 1081.0,124.5 1081.5,124.5 1082.0,124.5 1082.6,124.5 1083.2,124.5 1083.7,124.5 1084.2,124.5 1084.8,124.5 1085.3,124.5 1085.9,124.5 1086.5,124.5 1087.0,124.5 1087.5,124.5 1088.1,124.5 1088.7,124.6 1089.2,124.7 1089.8,124.8 1090.3,124.9 1090.8,125.0 1091.4,125.2 1092.0,125.4 1092.5,125.6 1093.0,125.9 1093.6,126.1 1094.2,126.4 1094.7,126.9 1095.2,127.9 1095.8,129.0 1096.3,130.0 1096.9,131.0 1097.5,132.1 1098.0,133.1 1098.5,134.2 1099.1,135.2 1099.7,136.2 1100.2,137.3 1100.8,138.3 1101.3,139.4 1101.8,140.4 1102.4,141.4 1103.0,142.4 1103.5,143.5 1104.0,144.5 1104.6,145.5 1105.2,146.5 1105.7,147.6 1106.2,148.6 1106.8,149.6 1107.3,150.6 1107.9,151.6 1108.5,152.6 1109.0,153.6 1109.5,154.7 1110.1,155.7 1110.7,156.7 1111.2,157.7 1111.8,158.7 1112.3,159.7 1112.8,160.7 1113.4,161.8 1114.0,162.8 1114.5,163.8 1115.0,164.8 1115.6,165.7 1116.2,166.4 1116.7,167.1 1117.2,167.9 1117.8,168.7 1118.3,169.6 1118.9,170.5 1119.5,171.0 1120.0,171.7 1120.5,172.6 1121.1,173.7 1121.7,174.1 1122.2,174.9 1122.8,175.6 1123.3,176.2 1123.8,177.0 1124.4,177.8 1125.0,179.5 1125.5,179.5 1126.0,180.1 1126.6,181.3 1127.2,181.8 1127.7,183.4 1128.2,183.4 1128.8,182.7 1129.3,184.6 1129.9,185.0 1130.5,186.8 1131.0,186.6 1131.5,188.1 1132.1,188.3 1132.7,187.0 1133.2,190.3 1133.8,187.9 1134.3,189.0 1134.8,190.1 1135.4,191.7 1136.0,195.8 1136.5,190.1 1137.0,192.7 1137.6,189.0 1138.2,190.8 1138.7,195.4 1139.2,195.4 1139.8,196.3 1140.3,197.3 1140.9,196.5 1141.5,201.0 1142.0,196.1 1142.5,199.9 1143.1,195.8 1143.7,201.1 1144.2,199.9 1144.8,196.5 1145.3,200.8 1145.8,198.8 1146.4,196.2 1147.0,203.2 1147.5,205.1 1148.0,199.5 1148.6,203.0 1149.2,197.4 1149.7,199.9 1150.2,214.5 1150.8,208.0 1151.3,213.2 1151.9,210.2 1152.5,201.1 1153.0,198.3 1153.5,207.3 1154.1,197.0 1154.7,202.6 1155.2,197.0 1155.8,216.2 1156.3,202.9 1156.8,210.8 1157.4,198.8 1158.0,199.1 1158.5,200.9 1159.0,201.3 1159.6,194.4 1160.2,200.1 1160.7,198.0 1161.2,200.9 1161.8,198.1 1162.3,203.1 1162.9,194.5 1163.5,205.8 1164.0,213.9 1164.5,198.2 1165.1,200.0 1165.7,195.4 1166.2,214.8 1166.8,200.5 1167.3,197.4 1167.8,201.7 1168.4,204.9 1169.0,194.3 1169.5,200.7 1170.0,199.2 1170.6,198.0 1171.2,196.4 1171.7,200.3 1172.2,202.1 1172.8,208.5 1173.3,197.7 1173.9,208.5 1174.5,206.8 1175.0,200.2 1175.5,204.6 1176.1,206.7 1176.7,197.8 1177.2,202.9 1177.8,200.5 1178.3,203.3 1178.8,228.2 1179.4,197.5 1180.0,200.6 1180.5,202.8 1181.0,201.0 1181.6,196.5 1182.2,202.2 1182.7,199.2 1183.2,194.8 1183.8,200.7 1184.3,210.7 1184.9,200.0 1185.5,215.1 1186.0,199.3 1186.5,205.6 1187.1,201.2 1187.7,201.4 1188.2,200.7 1188.8,193.5 1189.3,201.0 1189.8,214.9 1190.4,200.1 1191.0,202.8 1191.5,200.1 1192.0,201.3 1192.6,199.3 1193.2,198.5 1193.7,198.5 1194.2,206.1 1194.8,206.2 1195.3,197.9 1195.9,199.4 1196.5,213.2 1197.0,200.9 1197.5,207.1 1198.1,205.2 1198.7,202.9 1199.2,203.6 1199.8,199.6 1200.3,201.1 1200.8,201.2 1201.4,207.2 1202.0,196.8 1202.5,200.5 1203.0,207.3 1203.6,198.6 1204.2,201.0 1204.7,203.4 1205.2,204.3 1205.8,202.6 1206.3,197.7 1206.9,199.6 1207.5,198.8 1208.0,205.5 1208.6,208.9 1209.1,199.6 1209.7,200.7 1210.2,201.7 1210.8,199.5 1211.3,210.7 1211.8,201.4 1212.4,205.3 1213.0,201.9 1213.5,202.8 1214.1,200.0 1214.6,199.4 1215.2,212.7 1215.7,206.8 1216.2,204.2 1216.8,199.1 1217.3,195.2 1217.9,199.9 1218.5,199.9 1219.0,199.9 1219.6,198.4 1220.1,195.8 1220.7,196.1 1221.2,203.2 1221.8,202.7 1222.3,197.8 1222.8,205.9 1223.4,199.7 1224.0,204.7 1224.5,204.6 1225.1,198.4 1225.6,199.8 1226.2,194.5 1226.7,201.2 1227.2,204.1 1227.8,201.6 1228.3,208.7 1228.9,196.7 1229.5,196.6 1230.0,199.5 1230.6,201.7 1231.1,197.8 1231.7,210.7 1232.2,199.2 1232.8,202.5 1233.3,203.1 1233.8,202.9 1234.4,197.5 1235.0,203.2 1235.5,200.1 1236.1,202.8 1236.6,196.9 1237.2,202.7 1237.7,209.0 1238.2,203.7 1238.8,208.3 1239.3,198.0 1239.9,206.0 1240.5,201.1 1241.0,206.2 1241.6,200.9 1242.1,196.6 1242.7,207.2 1243.2,213.3 1243.8,203.0 1244.3,200.8 1244.8,208.6 1245.4,199.4 1246.0,199.7 1246.5,210.7 1247.1,208.4 1247.6,202.9 1248.2,204.5 1248.7,210.2 1249.2,198.5 1249.8,200.3 1250.3,200.4 1250.9,195.6 1251.5,214.4 1252.0,199.8 1252.6,210.6 1253.1,199.4 1253.7,198.4 1254.2,209.1 1254.8,203.2 1255.3,201.2 1255.8,198.9 1256.4,206.9 1257.0,204.2 1257.5,198.1 1258.1,212.5 1258.6,199.3 1259.2,204.6 1259.7,201.3 1260.2,202.1 1260.8,198.9 1261.3,205.5 1261.9,205.5 1262.5,207.6 1263.0,209.6 1263.6,199.7 1264.1,199.0 1264.7,204.4 1265.2,201.5 1265.8,199.3 1266.3,197.9 1266.8,200.8 1267.4,204.0 1268.0,205.7 1268.5,194.7" fill="none" stroke="#ffff00" stroke-width="1" shape-rendering="crispEdges" />
<polyline points="75.0,349.9 75.5,349.9 76.0,348.1 76.5,347.9 77.0,352.9 77.5,348.9 78.0,347.0 78.5,351.4 79.0,354.7 79.5,350.5 80.0,353.6 80.5,348.9 81.0,352.3 81.5,353.2 82.0,350.9 82.5,356.5 83.0,353.2 83.5,356.1 84.0,353.2 84.5,351.1 85.0,352.4 85.5,352.5 86.0,354.7 86.5,352.1 87.0,352.9 87.5,350.1 88.0,351.8 88.5,346.8 89.0,352.2 89.5,351.7 90.0,349.2 90.5,351.9 91.0,353.0 91.5,354.9 92.0,351.1 92.5,353.4 93.0,354.3 93.5,353.9 94.0,359.1 94.5,353.0 95.0,353.4 95.5,351.2 96.0,351.4 96.5,355.8 97.0,349.7 97.5,340.9 98.0,350.2 98.5,351.6 99.0,352.9 99.5,345.0 100.0,354.1 100.5,352.4 101.0,351.5 101.5,347.6 102.0,353.5 102.5,353.2 103.0,351.5 103.5,353.9 104.0,354.0 104.5,351.7 105.0,350.5 105.5,352.2 106.0,348.2 106.5,355.8 107.0,353.0 107.5,352.0 108.0,353.1 108.5,350.7 109.0,351.1 109.5,349.5 110.0,351.6 110.5,350.6 111.0,351.5 111.5,350.6 112.0,351.8 112.5,351.9 113.0,351.1 113.5,350.2 114.0,352.5 114.5,350.4 115.0,352.8 115.5,350.5 116.0,350.1 116.5,347.4 117.0,350.9 117.5,351.8 118.0,349.3 118.5,352.4 119.0,353.5 119.5,354.8 120.0,349.8 120.5,353.2 121.0,351.9 121.5,351.6 122.0,351.3 122.5,351.0 123.0,354.0 123.5,350.1 124.0,351.5 124.5,349.4 125.0,350.2 125.5,353.7 126.0,352.1 126.5,352.0 127.0,351.2 127.5,352.5 128.0,357.8 128.5,352.6 129.0,348.0 129.5,349.8 130.0,353.0 130.5,349.6 131.0,350.1 131.5,350.7 132.0,350.7 132.5,348.6 133.0,349.7 133.5,351.0 134.0,353.4 134.5,350.9 135.0,350.8 135.5,356.7 136.0,354.1 136.5,350.8 137.0,350.1 137.5,352.0 138.0,350.5 138.5,352.1 139.0,350.6 139.5,350.7 140.0,352.1 140.5,351.7 141.0,354.9 141.5,350.8 142.0,355.0 142.5,356.5 143.0,349.4 143.5,352.4 144.0,354.2 144.5,354.1 145.0,351.2 145.5,353.3 146.0,350.1 146.5,351.4 147.0,348.1 147.5,353.1 148.0,355.1 148.5,352.3 149.0,351.3 149.5,349.5 150.0,350.6 150.5,353.2 151.0,346.1 151.5,355.2 152.0,350.7 152.5,352.6 153.0,353.3 153.5,353.6 154.0,351.5 154.5,352.9 155.0,353.2 155.5,352.5 156.0,351.8 156.5,351.6 157.0,349.9 157.5,352.0 158.0,349.3 158.5,348.5 159.0,350.9 159.5,355.9 160.0,351.1 160.5,350.2 161.0,347.5 161.5,352.5 162.0,352.7 162.5,351.3 163.0,350.3 163.5,350.8 164.0,354.6 164.5,353.0 165.0,348.0 165.5,351.9 166.0,351.8 166.5,354.3 167.0,351.0 167.5,351.9 168.0,351.9 168.5,350.9 169.0,356.6 169.5,353.4 170.0,352.3 170.5,355.7 171.0,352.1 171.5,349.1 172.0,354.6 172.5,355.6 173.0,350.3 173.5,349.1 174.0,351.2 174.5,353.0 175.0,351.0 175.5,353.4 176.0,350.1 176.5,349.4 177.0,349.6 177.5,351.7 178.0,348.6 178.5,347.4 179.0,345.3 179.5,352.4 180.0,350.6 180.5,353.1 181.0,352.9 181.5,353.5 182.0,352.8 182.5,353.1 183.0,351.7 183.5,348.0 184.0,349.1 184.5,355.1 185.0,351.4 185.5,352.8 186.0,350.7 186.5,349.4 187.0,356.3 187.5,352.2 188.0,351.0 188.5,353.2 189.0,351.7 189.5,349.2 190.0,350.0 190.5,348.2 191.0,347.5 191.5,352.0 192.0,354.2 192.5,352.6 193.0,355.8 193.5,352.6 194.0,352.6 194.5,348.4 195.0,353.3 195.5,352.5 196.0,352.5 196.5,352.2 197.0,350.2 197.5,354.7 198.0,353.8 198.5,353.4 199.0,348.9 199.5,351.0 200.0,350.4 200.5,351.2 201.0,353.3 201.5,351.2 202.0,352.1 202.5,356.8 203.0,352.7 203.5,353.2 204.0,353.6 204.5,353.0 205.0,351.9 205.5,353.1 206.0,351.4 206.5,352.6 207.0,352.0 207.5,349.7 208.0,352.1 208.5,349.7 209.0,349.5 209.5,348.3 210.0,351.6 210.5,355.3 211.0,353.0 211.5,352.4 212.0,351.9 212.5,352.6 213.0,352.6 213.5,352.1 214.0,354.8 214.5,348.6 215.0,350.5 215.5,348.7 216.0,356.7 216.5,349.4 217.0,351.5 217.5,350.1 218.0,353.2 218.5,353.1 219.0,350.2 219.5,352.8 220.0,347.3 220.5,355.1 221.0,351.5 221.5,348.3 222.0,348.3 222.5,352.4 223.0,351.8 223.5,353.2 224.0,352.0 224.5,350.7 225.0,355.4 225.5,351.6 226.0,351.2 226.5,352.6 227.0,356.9 227.5,352.3 228.0,353.0 228.5,355.1 229.0,353.6 229.5,350.1 230.0,354.2 230.5,352.1 231.0,347.7 231.5,353.0 232.0,349.2 232.5,352.4 233.0,353.6 233.5,348.3 234.0,348.9 234.5,351.3 235.0,351.1 235.5,352.5 236.0,350.7 236.5,353.5 237.0,350.9 237.5,354.9 238.0,353.9 238.5,352.9 239.0,353.4 239.5,351.0 240.0,351.5 240.5,351.6 241.0,352.2 241.5,354.3 242.0,352.8 242.5,352.0 243.0,353.1 243.5,351.3 244.0,352.6 244.5,352.4 245.0,351.4 245.5,353.9 246.0,354.8 246.5,356.6 247.0,356.4 247.5,356.4 248.0,356.4 250.0,356.0 256.0,357.6 260.0,361.0 264.0,366.0 267.6,366.4 268.0,357.0 269.6,360.0 270.4,378.0 271.6,436.0 272.4,388.0 273.6,394.0 274.6,472.0 276.0,426.0 277.0,396.0 278.0,451.0 279.0,426.0 279.6,370.0 281.0,360.0 282.4,369.0 285.0,367.0 289.0,358.0 292.4,351.0 294.0,359.0 297.0,362.0 303.0,362.0 308.0,367.0 314.0,372.0 320.0,372.0 324.4,370.6 328.0,378.0 335.6,388.6 340.0,388.0 344.4,382.4 348.0,396.0 353.4,436.0 356.4,406.0 359.6,387.4 362.4,406.0 365.0,442.0 366.6,478.0 368.6,426.0 371.0,402.0 374.0,387.4 377.0,402.0 380.0,430.0 382.4,475.6 384.4,430.0 387.0,402.0 390.0,387.4 393.0,402.0 396.0,434.0 398.4,479.0 400.6,430.0 403.0,402.0 406.4,387.4 409.6,404.0 412.4,438.0 414.4,478.4 416.6,434.0 419.0,406.0 422.2,387.4 425.0,402.0 428.0,434.0 430.0,473.0 432.0,434.0 434.4,404.0 437.6,387.4 440.0,402.0 442.6,438.0 444.4,479.0 446.0,442.0 448.6,402.0 451.4,387.4 453.6,404.0 455.2,430.0 456.6,461.6 458.0,426.0 460.0,400.0 463.0,383.0 465.0,387.0 468.0,388.6 471.0,384.0 476.0,374.0 481.0,366.0 488.0,364.0 500.0,360.0 500.5,359.8 501.0,359.6 501.5,359.4 502.0,359.3 502.5,359.0 503.0,358.8 503.5,358.5 504.0,358.3 504.5,357.9 505.0,357.6 505.5,357.1 506.0,357.7 506.5,357.8 507.0,356.6 507.5,356.7 508.0,355.8 508.5,356.7 509.0,356.8 509.5,356.0 510.0,355.8 510.5,356.4 511.0,354.3 511.5,356.5 512.0,354.9 512.5,355.3 513.0,355.0 513.5,353.2 514.0,354.8 514.5,353.1 515.0,354.8 515.5,353.0 516.0,353.2 516.5,360.4 517.0,352.9 517.5,353.3 518.0,354.0 518.5,353.1 519.0,350.1 519.5,350.9 520.0,353.0 520.5,352.5 521.0,354.1 521.5,354.2 522.0,353.1 522.5,356.8 523.0,353.0 523.5,350.7 524.0,354.7 524.5,352.2 525.0,351.8 525.5,353.3 526.0,351.9 526.5,351.1 527.0,351.5 527.5,352.3 528.0,352.1 528.5,347.1 529.0,349.2 529.5,348.9 530.0,352.0 530.5,346.0 531.0,350.6 531.5,353.3 532.0,348.6 532.5,354.0 533.0,350.9 533.5,351.3 534.0,349.1 534.5,351.3 535.0,352.7 535.5,350.3 536.0,353.5 536.5,350.2 537.0,351.0 537.5,346.8 538.0,350.1 538.5,350.0 539.0,350.3 539.5,351.2 540.0,350.6 540.5,350.5 541.0,353.8 541.5,352.0 542.0,352.5 542.5,351.5 543.0,351.2 543.5,349.3 544.0,352.2 544.5,350.8 545.0,353.0 545.5,350.6 546.0,349.7 546.5,353.8 547.0,350.8 547.5,344.4 548.0,345.2 548.5,350.4 549.0,350.9 549.5,348.3 550.0,347.2 550.5,349.6 551.0,346.5 551.5,350.2 552.0,354.7 552.5,350.4 553.0,348.3 553.5,349.8 554.0,352.7 554.5,349.3 555.0,352.2 555.5,352.7 556.0,350.7 556.5,351.8 557.0,350.2 557.5,350.4 558.0,349.0 558.5,348.5 559.0,352.1 559.5,351.8 560.0,349.0 560.5,350.8 561.0,350.8 561.5,350.9 562.0,350.4 562.5,350.7 563.0,353.8 563.5,348.4 564.0,348.7 564.5,350.8 565.0,352.9 565.5,347.8 566.0,350.9 566.5,352.6 567.0,351.4 567.5,350.3 568.0,344.2 568.5,346.4 569.0,349.8 569.5,350.5 570.0,351.6 570.5,354.7 571.0,351.1 571.5,349.5 572.0,349.3 572.5,349.4 573.0,348.3 573.5,351.0 574.0,351.2 574.5,352.0 575.0,348.8 575.5,350.8 576.0,349.4 576.5,347.7 577.0,353.0 577.5,351.1 578.0,346.6 578.5,352.1 579.0,351.6 579.5,354.6 580.0,351.5 580.5,349.8 581.0,348.6 581.5,350.5 582.0,350.3 582.5,350.4 583.0,349.5 583.5,352.9 584.0,348.8 584.5,351.4 585.0,347.1 585.5,349.7 586.0,350.7 586.5,355.7 587.0,352.5 587.5,354.5 588.0,352.5 588.5,349.5 589.0,352.1 589.5,350.4 590.0,351.9 590.5,347.1 591.0,346.8 591.5,343.5 592.0,349.6 592.5,346.0 593.0,351.2 593.5,349.1 594.0,352.6 594.5,349.8 595.0,347.3 595.5,353.2 596.0,346.9 596.5,350.1 597.0,350.3 597.5,350.3 598.0,352.3 598.5,345.1 599.0,351.3 599.5,349.8 600.0,348.0 600.5,345.9 601.0,349.8 601.5,347.7 602.0,352.8 602.5,345.3 603.0,352.1 603.5,344.4 604.0,346.6 604.5,351.1 605.0,347.4 605.5,348.8 606.0,348.0 606.5,348.9 607.0,347.1 607.5,349.4 608.0,349.5 608.5,349.7 609.0,349.0 609.5,350.3 610.0,350.2 610.5,349.7 611.0,352.8 611.5,348.6 612.0,344.0 612.5,346.8 613.0,347.9 613.5,348.3 614.0,352.1 614.5,349.4 615.0,344.5 615.5,347.8 616.0,348.4 616.5,350.8 617.0,350.5 617.5,342.3 618.0,349.6 618.5,346.8 619.0,346.8 619.5,345.6 620.0,347.2 620.5,349.4 621.0,352.8 621.5,346.8 622.0,349.9 622.5,348.9 623.0,347.4 623.5,351.3 624.0,347.4 624.5,343.8 625.0,349.7 625.5,347.9 626.0,345.7 626.5,351.9 627.0,346.2 627.5,347.7 628.0,346.8 628.5,348.0 629.0,349.4 629.5,347.8 630.0,346.2 630.5,353.4 631.0,347.6" fill="none" stroke="#ffff00" stroke-width="1" shape-rendering="crispEdges" />
<polyline points="713.0,427.6 904.0,414.4 905.2,410.5 908.1,365.0 909.0,363.5 919.5,363.5 922.1,410.5 931.8,420.2 997.4,363.5 1095.0,363.5 1141.5,427.0 1269.0,429.0" fill="none" stroke="#ff0000" stroke-width="1" shape-rendering="crispEdges" />
<polyline points="713.0,445.7 713.5,436.3 714.1,439.5 714.6,443.2 715.2,440.7 715.8,439.7 716.3,442.2 716.9,447.3 717.4,447.1 718.0,440.2 718.5,438.2 719.0,437.1 719.6,445.7 720.1,438.9 720.7,439.5 721.2,436.3 721.8,434.4 722.4,443.8 722.9,440.4 723.5,436.8 724.0,444.2 724.5,439.6 725.1,439.8 725.6,443.1 726.2,447.7 726.8,439.1 727.3,438.9 727.9,437.1 728.4,444.1 729.0,450.8 729.5,437.2 730.0,438.6 730.6,439.7 731.1,436.8 731.7,438.8 732.2,442.8 732.8,435.2 733.4,442.4 733.9,439.6 734.5,442.4 735.0,444.5 735.5,439.5 736.1,436.7 736.6,436.2 737.2,437.0 737.8,439.0 738.3,447.1 738.9,446.5 739.4,451.6 740.0,440.9 740.5,443.8 741.0,439.6 741.6,432.7 742.1,439.4 742.7,441.9 743.2,436.7 743.8,454.2 744.4,435.9 744.9,441.6 745.5,447.1 746.0,438.4 746.5,441.4 747.1,443.8 747.6,436.4 748.2,444.1 748.8,437.4 749.3,437.9 749.9,444.6 750.4,444.6 751.0,439.5 751.5,441.7 752.0,446.0 752.6,441.9 753.1,441.6 753.7,437.8 754.2,437.8 754.8,439.4 755.4,438.6 755.9,438.2 756.5,443.6 757.0,437.3 757.5,437.2 758.1,448.2 758.6,441.5 759.2,437.8 759.8,455.7 760.3,439.2 760.9,447.1 761.4,441.0 762.0,442.0 762.5,439.4 763.0,446.8 763.6,439.0 764.1,437.5 764.7,439.5 765.2,443.0 765.8,437.7 766.4,439.7 766.9,443.4 767.5,450.1 768.0,444.0 768.5,446.9 769.1,449.7 769.6,444.1 770.2,444.1 770.8,446.4 771.3,434.9 771.9,439.5 772.4,436.5 773.0,444.7 773.5,438.5 774.0,447.6 774.6,442.0 775.1,437.3 775.7,445.8 776.2,441.6 776.8,439.7 777.4,445.2 777.9,438.9 778.5,447.2 779.0,445.1 779.5,437.7 780.1,450.0 780.6,433.5 781.2,443.2 781.8,439.2 782.3,440.0 782.9,436.3 783.4,436.1 784.0,440.3 784.5,446.1 785.0,443.7 785.6,442.7 786.1,440.9 786.7,437.5 787.2,434.8 787.8,440.4 788.4,451.3 788.9,436.9 789.5,439.7 790.0,435.6 790.5,438.6 791.1,435.8 791.6,442.8 792.2,445.6 792.8,440.4 793.3,450.9 793.9,436.8 794.4,441.3 795.0,442.5 795.5,435.9 796.0,436.9 796.6,442.1 797.1,445.0 797.7,434.5 798.2,445.3 798.8,451.1 799.4,448.3 799.9,450.2 800.5,445.1 801.0,438.5 801.5,446.7 802.1,447.4 802.6,462.2 803.2,451.6 803.8,436.5 804.3,440.3 804.9,434.4 805.4,436.1 806.0,444.5 806.5,439.0 807.0,442.4 807.6,446.1 808.1,450.3 808.7,443.5 809.2,442.5 809.8,443.7 810.4,448.0 810.9,442.4 811.5,442.4 812.0,436.0 812.5,436.6 813.1,444.0 813.6,444.6 814.2,445.9 814.8,436.4 815.3,437.3 815.9,439.5 816.4,441.1 817.0,440.7 817.5,446.7 818.0,442.6 818.6,449.4 819.1,455.3 819.7,446.3 820.2,438.3 820.8,443.0 821.4,437.3 821.9,443.5 822.5,438.4 823.0,437.3 823.5,439.9 824.1,455.8 824.6,438.3 825.2,453.7 825.8,442.1 826.3,443.7 826.9,439.8 827.4,443.4 828.0,445.8 828.5,439.6 829.0,447.1 829.6,439.7 830.1,440.1 830.7,457.1 831.2,443.1 831.8,446.3 832.4,447.1 832.9,440.7 833.5,442.1 834.0,439.0 834.5,442.9 835.1,439.1 835.6,440.7 836.2,441.3 836.8,442.6 837.3,440.0 837.9,439.6 838.4,440.8 839.0,439.4 839.5,434.2 840.0,447.3 840.6,446.7 841.1,450.0 841.7,441.9 842.2,435.5 842.8,443.7 843.4,442.8 843.9,447.1 844.5,441.3 845.0,442.5 845.5,448.6 846.1,443.0 846.6,440.2 847.2,446.8 847.8,435.9 848.3,446.0 848.9,439.8 849.4,444.3 850.0,435.9 850.5,445.9 851.0,443.0 851.6,439.8 852.1,465.4 852.7,442.0 853.2,447.3 853.8,440.1 854.4,442.1 854.9,446.6 855.5,441.2 856.0,440.4 856.5,440.4 857.1,439.6 857.6,435.9 858.2,451.6 858.8,445.7 859.3,436.5 859.9,442.0 860.4,438.0 861.0,444.8 861.5,445.6 862.0,435.9 862.6,438.9 863.1,441.5 863.7,441.1 864.2,441.3 864.8,435.5 865.4,436.9 865.9,435.6 866.5,435.4 867.0,443.1 867.5,436.2 868.1,433.1 868.6,443.3 869.2,457.3 869.8,442.1 870.3,461.8 870.9,435.5 871.4,436.1 872.0,447.9 872.5,439.4 873.0,433.3 873.6,437.0 874.1,439.7 874.7,432.7 875.2,434.1 875.8,430.3 876.4,431.9 876.9,432.9 877.5,435.3 878.0,431.4 878.5,432.0 879.1,432.0 879.6,430.8 880.2,433.6 880.8,431.5 881.3,432.2 881.9,431.2 882.4,431.0 883.0,433.0 883.5,430.8 884.0,431.7 884.6,429.9 885.1,429.2 885.7,428.5 886.2,430.9 886.8,428.4 887.4,427.7 887.9,427.3 888.5,428.1 889.0,428.0 889.5,427.9 890.1,428.5 890.6,425.8 891.2,427.0 891.8,426.5 892.3,424.7 892.9,424.6 893.4,423.9 894.0,424.9 894.5,424.1 895.0,423.3 895.6,422.7 896.1,423.0 896.7,422.1 897.2,422.1 897.8,421.6 898.4,420.3 898.9,419.9 899.5,419.1 900.0,419.1 900.5,418.6 901.1,418.3 901.6,418.0 902.2,417.4 902.8,416.6 903.3,416.3 903.9,415.8 904.4,415.8 905.0,416.2 905.5,417.5 906.0,420.1 906.6,425.9 907.1,417.8 907.7,394.9 908.2,388.7 908.8,382.5 909.4,374.9 909.9,366.3 910.5,365.7 911.0,365.1 911.5,364.6 912.1,364.5 912.6,364.5 913.2,364.5 913.8,364.5 914.3,364.5 914.9,364.5 915.4,364.9 916.0,365.7 916.5,366.5 917.0,373.1 917.6,395.1 918.1,408.8 918.7,417.6 919.2,427.1 919.8,419.2 920.4,412.1 920.9,412.2 921.5,412.9 922.0,413.6 922.5,414.2 923.1,414.6 923.6,414.5 924.2,416.0 924.8,417.6 925.3,419.6 925.9,420.6 926.4,422.2 927.0,423.1 927.5,425.7 928.0,428.0 928.6,431.1 929.1,432.2 929.7,435.8 930.2,446.0 930.8,438.2 931.4,436.6 931.9,426.9 932.5,425.1 933.0,424.7 933.5,422.1 934.1,422.8 934.6,422.0 935.2,421.5 935.8,420.3 936.3,420.5 936.9,420.2 937.4,419.1 938.0,418.5 938.5,417.9 939.0,417.8 939.6,417.1 940.1,416.8 940.7,416.2 941.2,416.1 941.8,415.8 942.4,415.3 942.9,414.8 943.5,414.5 944.0,413.7 944.5,414.0 945.1,413.5 945.6,413.1 946.2,412.9 946.8,412.1 947.3,411.7 947.9,411.6 948.4,411.3 949.0,411.0 949.5,410.8 950.0,410.5 950.6,410.0 951.1,409.7 951.7,409.3 952.2,408.9 952.8,408.5 953.4,408.4 953.9,408.0 954.5,407.7 955.0,407.2 955.5,407.1 956.1,406.6 956.6,406.4 957.2,406.1 957.8,405.6 958.3,405.3 958.9,405.0 959.4,404.7 960.0,404.3 960.5,403.8 961.0,403.2 961.6,402.5 962.2,402.2 962.7,401.6 963.2,401.1 963.8,400.6 964.4,400.0 964.9,399.5 965.5,399.0 966.0,398.4 966.5,397.9 967.1,397.4 967.7,396.8 968.2,396.3 968.8,395.8 969.3,395.3 969.9,394.7 970.4,394.2 971.0,393.8 971.5,393.3 972.0,392.9 972.6,392.5 973.2,392.0 973.7,391.6 974.2,391.1 974.8,390.7 975.4,390.2 975.9,389.8 976.5,389.3 977.0,388.9 977.5,388.5 978.1,388.0 978.7,387.6 979.2,387.1 979.8,386.4 980.3,385.8 980.9,385.1 981.4,384.5 982.0,383.8 982.5,383.2 983.0,382.6 983.6,381.9 984.2,381.3 984.7,380.6 985.2,379.8 985.8,379.1 986.4,378.3 986.9,377.6 987.5,376.9 988.0,376.1 988.5,375.4 989.1,374.6 989.7,373.9 990.2,373.3 990.8,372.7 991.3,372.0 991.9,371.4 992.4,370.8 993.0,370.1 993.5,369.5 994.0,368.9 994.6,368.2 995.2,367.7 995.7,367.3 996.2,366.9 996.8,366.5 997.4,366.1 997.9,365.7 998.5,365.4 999.0,365.2 999.5,365.1 1000.1,364.9 1000.7,364.8 1001.2,364.7 1001.8,364.5 1002.3,364.5 1002.9,364.5 1003.4,364.5 1004.0,364.5 1004.5,364.5 1005.0,364.5 1005.6,364.5 1006.2,364.5 1006.7,364.5 1007.2,364.5 1007.8,364.5 1008.4,364.5 1008.9,364.5 1009.5,364.5 1010.0,364.5 1010.5,364.5 1011.1,364.5 1011.7,364.5 1012.2,364.5 1012.8,364.5 1013.3,364.5 1013.9,364.5 1014.4,364.5 1015.0,364.5 1015.5,364.5 1016.0,364.5 1016.6,364.5 1017.2,364.5 1017.7,364.5 1018.2,364.5 1018.8,364.5 1019.4,364.5 1019.9,364.5 1020.5,364.5 1021.0,364.5 1021.5,364.5 1022.1,364.5 1022.7,364.5 1023.2,364.5 1023.8,364.5 1024.3,364.5 1024.8,364.5 1025.4,364.5 1026.0,364.5 1026.5,364.5 1027.0,364.5 1027.6,364.5 1028.2,364.5 1028.7,364.5 1029.2,364.5 1029.8,364.5 1030.3,364.5 1030.9,364.5 1031.5,364.5 1032.0,364.5 1032.5,364.5 1033.1,364.5 1033.7,364.5 1034.2,364.5 1034.8,364.5 1035.3,364.5 1035.8,364.5 1036.4,364.5 1037.0,364.5 1037.5,364.5 1038.0,364.5 1038.6,364.5 1039.2,364.5 1039.7,364.5 1040.2,364.5 1040.8,364.5 1041.3,364.5 1041.9,364.5 1042.5,364.5 1043.0,364.5 1043.5,364.5 1044.1,364.5 1044.7,364.5 1045.2,364.5 1045.8,364.5 1046.3,364.5 1046.8,364.5 1047.4,364.5 1048.0,364.5 1048.5,364.5 1049.0,364.5 1049.6,364.5 1050.2,364.5 1050.7,364.5 1051.2,364.5 1051.8,364.5 1052.3,364.5 1052.9,364.5 1053.5,364.5 1054.0,364.5 1054.5,364.5 1055.1,364.5 1055.7,364.5 1056.2,364.5 1056.8,364.5 1057.3,364.5 1057.8,364.5 1058.4,364.5 1059.0,364.5 1059.5,364.5 1060.0,364.5 1060.6,364.5 1061.2,364.5 1061.7,364.5 1062.2,364.5 1062.8,364.5 1063.3,364.5 1063.9,364.5 1064.5,364.5 1065.0,364.5 1065.5,364.5 1066.1,364.5 1066.7,364.5 1067.2,364.5 1067.8,364.5 1068.3,364.5 1068.8,364.5 1069.4,364.5 1070.0,364.5 1070.5,364.5 1071.0,364.5 1071.6,364.5 1072.2,364.5 1072.7,364.5 1073.2,364.5 1073.8,364.5 1074.3,364.5 1074.9,364.5 1075.5,364.5 1076.0,364.5 1076.5,364.5 1077.1,364.5 1077.7,364.5 1078.2,364.5 1078.8,364.5 1079.3,364.5 1079.8,364.5 1080.4,364.5 1081.0,364.5 1081.5,364.5 1082.0,364.5 1082.6,364.5 1083.2,364.5 1083.7,364.5 1084.2,364.5 1084.8,364.5 1085.3,364.5 1085.9,364.5 1086.5,364.5 1087.0,364.5 1087.5,364.5 1088.1,364.5 1088.7,364.6 1089.2,364.7 1089.8,364.8 1090.3,364.9 1090.8,365.0 1091.4,365.2 1092.0,365.4 1092.5,365.6 1093.0,365.9 1093.6,366.1 1094.2,366.4 1094.7,366.9 1095.2,367.9 1095.8,369.0 1096.3,370.0 1096.9,371.0 1097.5,372.1 1098.0,373.1 1098.5,374.2 1099.1,375.2 1099.7,376.2 1100.2,377.3 1100.8,378.3 1101.3,379.4 1101.8,380.4 1102.4,381.4 1103.0,382.5 1103.5,383.5 1104.0,384.5 1104.6,385.5 1105.2,386.5 1105.7,387.5 1106.2,388.5 1106.8,389.6 1107.3,390.6 1107.9,391.6 1108.5,392.6 1109.0,393.6 1109.5,394.6 1110.1,395.7 1110.7,396.7 1111.2,397.7 1111.8,398.7 1112.3,399.7 1112.8,400.7 1113.4,401.8 1114.0,402.7 1114.5,403.7 1115.0,404.8 1115.6,405.5 1116.2,406.3 1116.7,407.1 1117.2,407.9 1117.8,408.6 1118.3,409.5 1118.9,410.4 1119.5,411.4 1120.0,412.0 1120.5,412.6 1121.1,413.5 1121.7,414.2 1122.2,415.3 1122.8,415.3 1123.3,416.7 1123.8,417.2 1124.4,418.0 1125.0,418.8 1125.5,419.5 1126.0,420.9 1126.6,421.9 1127.2,421.8 1127.7,422.4 1128.2,424.5 1128.8,424.0 1129.3,424.6 1129.9,426.6 1130.5,425.1 1131.0,426.0 1131.5,425.9 1132.1,428.8 1132.7,428.1 1133.2,427.9 1133.8,429.7 1134.3,429.0 1134.8,430.7 1135.4,432.5 1136.0,428.5 1136.5,431.7 1137.0,435.5 1137.6,431.7 1138.2,432.5 1138.7,435.9 1139.2,432.7 1139.8,434.4 1140.3,431.3 1140.9,434.9 1141.5,434.8 1142.0,435.1 1142.5,434.9 1143.1,432.9 1143.7,443.9 1144.2,439.5 1144.8,435.9 1145.3,436.7 1145.8,437.6 1146.4,436.6 1147.0,444.5 1147.5,440.9 1148.0,441.8 1148.6,435.7 1149.2,443.2 1149.7,442.1 1150.2,448.5 1150.8,440.3 1151.3,444.9 1151.9,444.0 1152.5,437.3 1153.0,445.9 1153.5,449.0 1154.1,445.6 1154.7,436.6 1155.2,445.1 1155.8,442.3 1156.3,444.3 1156.8,441.4 1157.4,453.2 1158.0,442.5 1158.5,450.6 1159.0,450.2 1159.6,450.1 1160.2,440.6 1160.7,442.9 1161.2,442.8 1161.8,446.0 1162.3,444.7 1162.9,439.3 1163.5,449.9 1164.0,445.8 1164.5,450.1 1165.1,442.0 1165.7,451.0 1166.2,448.2 1166.8,444.2 1167.3,442.4 1167.8,439.7 1168.4,444.5 1169.0,448.0 1169.5,444.0 1170.0,439.3 1170.6,459.2 1171.2,441.1 1171.7,439.2 1172.2,442.2 1172.8,447.5 1173.3,448.3 1173.9,440.9 1174.5,444.2 1175.0,442.6 1175.5,438.3 1176.1,443.0 1176.7,442.3 1177.2,445.0 1177.8,441.1 1178.3,445.3 1178.8,454.7 1179.4,441.5 1180.0,444.0 1180.5,442.3 1181.0,455.3 1181.6,444.0 1182.2,441.9 1182.7,435.5 1183.2,455.9 1183.8,440.6 1184.3,443.9 1184.9,442.9 1185.5,444.7 1186.0,447.8 1186.5,443.3 1187.1,444.3 1187.7,440.2 1188.2,453.1 1188.8,441.3 1189.3,444.2 1189.8,448.5 1190.4,439.6 1191.0,445.0 1191.5,443.3 1192.0,441.7 1192.6,447.9 1193.2,444.5 1193.7,444.2 1194.2,470.5 1194.8,440.6 1195.3,441.7 1195.9,449.6 1196.5,446.1 1197.0,441.4 1197.5,447.4 1198.1,443.2 1198.7,446.5 1199.2,442.2 1199.8,447.8 1200.3,439.2 1200.8,442.6 1201.4,439.2 1202.0,444.4 1202.5,439.5 1203.0,443.8 1203.6,439.4 1204.2,439.6 1204.7,436.7 1205.2,448.8 1205.8,441.7 1206.3,448.4 1206.9,440.1 1207.5,444.7 1208.0,448.1 1208.6,436.0 1209.1,449.4 1209.7,447.9 1210.2,446.1 1210.8,438.1 1211.3,455.0 1211.8,438.2 1212.4,451.6 1213.0,443.3 1213.5,440.9 1214.1,439.1 1214.6,448.7 1215.2,458.8 1215.7,443.4 1216.2,460.8 1216.8,441.4 1217.3,441.2 1217.9,441.2 1218.5,458.2 1219.0,440.6 1219.6,443.3 1220.1,441.1 1220.7,450.4 1221.2,436.0 1221.8,443.3 1222.3,444.3 1222.8,452.4 1223.4,438.9 1224.0,437.3 1224.5,441.9 1225.1,445.3 1225.6,448.3 1226.2,452.4 1226.7,440.1 1227.2,440.4 1227.8,448.9 1228.3,440.4 1228.9,442.7 1229.5,452.1 1230.0,445.4 1230.6,449.4 1231.1,445.3 1231.7,447.2 1232.2,442.0 1232.8,445.1 1233.3,438.6 1233.8,445.9 1234.4,450.7 1235.0,452.5 1235.5,450.3 1236.1,463.2 1236.6,455.7 1237.2,448.2 1237.7,443.0 1238.2,446.4 1238.8,442.5 1239.3,445.9 1239.9,460.3 1240.5,440.9 1241.0,446.6 1241.6,452.0 1242.1,437.5 1242.7,451.5 1243.2,442.7 1243.8,441.1 1244.3,446.2 1244.8,449.1 1245.4,452.5 1246.0,443.1 1246.5,470.5 1247.1,447.3 1247.6,441.1 1248.2,443.7 1248.7,446.8 1249.2,453.4 1249.8,442.2 1250.3,446.1 1250.9,437.5 1251.5,450.6 1252.0,437.6 1252.6,444.7 1253.1,442.7 1253.7,444.1 1254.2,444.3 1254.8,440.2 1255.3,440.9 1255.8,463.6 1256.4,443.5 1257.0,438.9 1257.5,439.7 1258.1,438.5 1258.6,438.9 1259.2,441.9 1259.7,439.1 1260.2,448.8 1260.8,441.4 1261.3,449.9 1261.9,441.8 1262.5,445.4 1263.0,446.5 1263.6,444.0 1264.1,444.7 1264.7,443.5 1265.2,438.2 1265.8,449.5 1266.3,444.6 1266.8,445.7 1267.4,445.5 1268.0,438.1 1268.5,439.3" fill="none" stroke="#00ffff" stroke-width="1" shape-rendering="crispEdges" />
<polyline points="75.0,641.5 84.0,641.8 88.5,644.5 96.0,653.5 103.5,661.0 109.0,665.0 115.5,668.2 126.0,670.6 136.5,673.0 147.0,675.4 168.0,678.4 192.0,679.6 210.0,682.0 223.5,684.4 243.0,684.4 255.0,682.6 267.0,683.5 320.0,683.5 350.0,683.8 378.5,684.1 384.5,682.0 425.0,681.4 464.0,679.0 500.0,675.4 545.0,670.9 575.0,662.5 593.0,658.0 609.5,649.0 620.0,640.0 631.0,628.0" fill="none" stroke="#ffff00" stroke-width="1" shape-rendering="crispEdges" />
<polyline points="713.0,728.5 719.5,601.0 796.0,726.4 803.0,596.5 891.4,724.6 896.8,595.0 991.5,729.4 996.6,599.5 1085.4,727.0 1090.8,597.4 1174.5,722.5 1180.0,593.0 1257.0,725.5 1262.4,598.0 1269.0,609.4" fill="none" stroke="#ffff00" stroke-width="1" shape-rendering="crispEdges" />
<path d="M384.5,134.0L390.5,142.5L384.5,151.0L378.5,142.5Z" fill="none" stroke="#ff00ff" stroke-width="1"/>
<path d="M382.10,124.40L384.80,122.20M384.85,121.70V131.00" fill="none" stroke="#ff00ff" stroke-width="1.4"/>
<path d="M1045.5,108L1052.0,116L1045.5,124L1039.0,116Z" fill="none" stroke="#c8c000" stroke-width="1"/>
<path d="M1040,114.5H1050L1045.5,124Z" fill="none" stroke="#c8c000"/>
<path d="M994.5,117.5V126.5M994.5,117.5L1004.5,122L994.5,126.5" fill="none" stroke="#c8c000"/>
<path d="M1094.5,117.5V126.5M1094.5,117.5L1084.5,122L1094.5,126.5" fill="none" stroke="#c8c000"/>
<path d="M1043.10,98.00L1045.80,95.80M1045.85,95.30V104.60" fill="none" stroke="#ffff00" stroke-width="1.4"/>
<path d="M911.5,347.5L917.5,356L911.5,364.5L905.5,356Z" fill="none" stroke="#00ffff" stroke-width="1"/>
<path d="M907,354.5H916L911.5,364Z" fill="none" stroke="#00b8b8"/>
<path d="M907.5,356.5V364.5M907.5,356.5L915,360.5L907.5,364.5" fill="none" stroke="#00b8b8"/>
<path d="M915.5,356.5V364.5M915.5,356.5L908,360.5L915.5,364.5" fill="none" stroke="#00b8b8"/>
<path d="M909.10,338.00L911.80,335.80M911.85,335.30V344.60" fill="none" stroke="#00ffff" stroke-width="1.4"/>
<path d="M384.5,666L390.0,674L384.5,682L379.0,674Z" fill="#ffff00" stroke="#ffff00" stroke-width="1"/>
<path d="M382.10,656.40L384.80,654.20M384.85,653.70V663.00" fill="none" stroke="#ffff00" stroke-width="1.4"/>
<path d="M904,590.5L910,599L904,607.5L898,599Z" fill="none" stroke="#ffff00" stroke-width="1"/>
<path d="M901.60,580.40L904.30,578.20M904.35,577.70V587.00" fill="none" stroke="#ffff00" stroke-width="1.4"/>
<g transform="translate(75,60) scale(0.89,1)"><text x="0" y="0" fill="#ff00ff" font-size="14.6" >Tr 6</text></g>
<g transform="translate(110,60) scale(0.89,1)"><text x="0" y="0" fill="#ff00ff" font-size="14.6" >S11</text></g>
<g transform="translate(137.9,60) scale(0.89,1)"><text x="0" y="0" fill="#ff00ff" font-size="14.6" >LogM</text></g>
<g transform="translate(175.2,60) scale(0.89,1)"><text x="0" y="0" fill="#ff00ff" font-size="14.6" >10 dB/</text></g>
<g transform="translate(217.6,60) scale(0.89,1)"><text x="0" y="0" fill="#ff00ff" font-size="14.6" >-20 dB</text></g>
<g transform="translate(713,60) scale(0.89,1)"><text x="0" y="0" fill="#ffff00" font-size="14.6" >Tr 3</text></g>
<g transform="translate(748,60) scale(0.89,1)"><text x="0" y="0" fill="#ffff00" font-size="14.6" >S21</text></g>
<g transform="translate(775.9,60) scale(0.89,1)"><text x="0" y="0" fill="#ffff00" font-size="14.6" >LogM</text></g>
<g transform="translate(813.2,60) scale(0.89,1)"><text x="0" y="0" fill="#ffff00" font-size="14.6" >20 dB/</text></g>
<g transform="translate(855.6,60) scale(0.89,1)"><text x="0" y="0" fill="#ffff00" font-size="14.6" >-40 dB</text></g>
<g transform="translate(994.5,60) scale(0.89,1)"><text x="0" y="0" fill="#00ffff" font-size="14.6" >Tr 4</text></g>
<g transform="translate(1029.5,60) scale(0.89,1)"><text x="0" y="0" fill="#00ffff" font-size="14.6" >S12</text></g>
<g transform="translate(1057.4,60) scale(0.89,1)"><text x="0" y="0" fill="#00ffff" font-size="14.6" >LogM</text></g>
<g transform="translate(1094.7,60) scale(0.89,1)"><text x="0" y="0" fill="#00ffff" font-size="14.6" >20 dB/</text></g>
<g transform="translate(1137.1,60) scale(0.89,1)"><text x="0" y="0" fill="#00ffff" font-size="14.6" >-40 dB</text></g>
<g transform="translate(75,300) scale(0.89,1)"><text x="0" y="0" fill="#ffff00" font-size="14.6" >Tr 7</text></g>
<g transform="translate(110,300) scale(0.89,1)"><text x="0" y="0" fill="#ffff00" font-size="14.6" textLength="274.49" lengthAdjust="spacing">Eq=20*log10(S21/sqrt(1-pow(abs(S11),2)))</text></g>
<g transform="translate(358.4,300) scale(0.89,1)"><text x="0" y="0" fill="#ffff00" font-size="14.6" >LogM</text></g>
<g transform="translate(396.1,300) scale(0.89,1)"><text x="0" y="0" fill="#ffff00" font-size="14.6" >5 dB/</text></g>
<g transform="translate(432.1,300) scale(0.89,1)"><text x="0" y="0" fill="#ffff00" font-size="14.6" >25 dB</text></g>
<g transform="translate(713,300) scale(0.89,1)"><text x="0" y="0" fill="#00ffff" font-size="14.6" >Tr 2</text></g>
<g transform="translate(748,300) scale(0.89,1)"><text x="0" y="0" fill="#00ffff" font-size="14.6" >S21</text></g>
<g transform="translate(775.9,300) scale(0.89,1)"><text x="0" y="0" fill="#00ffff" font-size="14.6" >LogM</text></g>
<g transform="translate(813.2,300) scale(0.89,1)"><text x="0" y="0" fill="#00ffff" font-size="14.6" >20 dB/</text></g>
<g transform="translate(855.6,300) scale(0.89,1)"><text x="0" y="0" fill="#00ffff" font-size="14.6" >-40 dB</text></g>
<rect x="75" y="527" width="30" height="16" fill="#ffff00"/>
<g transform="translate(75,540) scale(0.89,1)"><text x="0" y="0" fill="#181818" font-size="14.6" >Tr 1</text></g>
<g transform="translate(110,540) scale(0.89,1)"><text x="0" y="0" fill="#ffff00" font-size="14.6" >S21</text></g>
<g transform="translate(137.6,540) scale(0.89,1)"><text x="0" y="0" fill="#ffff00" font-size="14.6" >Delay</text></g>
<g transform="translate(175.6,540) scale(0.89,1)"><text x="0" y="0" fill="#ffff00" font-size="14.6" >2 ns/</text></g>
<g transform="translate(209.6,540) scale(0.89,1)"><text x="0" y="0" fill="#ffff00" font-size="14.6" >18 ns</text></g>
<g transform="translate(713,540) scale(0.89,1)"><text x="0" y="0" fill="#ffff00" font-size="14.6" >Tr 5</text></g>
<g transform="translate(748,540) scale(0.89,1)"><text x="0" y="0" fill="#ffff00" font-size="14.6" >S21</text></g>
<g transform="translate(775.5,540) scale(0.89,1)"><text x="0" y="0" fill="#ffff00" font-size="14.6" >Phase</text></g>
<g transform="translate(818.1,540) scale(0.89,1)"><text x="0" y="0" fill="#ffff00" font-size="14.6" >50 °/</text></g>
<g transform="translate(850.2,540) scale(0.89,1)"><text x="0" y="0" fill="#ffff00" font-size="14.6" >50 °</text></g>
<text x="424.0" y="78.5" fill="#ff00ff" font-size="13" text-anchor="start" >&gt; 1:</text>
<text x="537.5" y="78.5" fill="#ff00ff" font-size="13" text-anchor="end" >2.392774 GHz</text>
<text x="627.5" y="78.5" fill="#ff00ff" font-size="13" text-anchor="end" >-14.721 dB</text>
<text x="1062.5" y="78.5" fill="#ffff00" font-size="13" text-anchor="start" >&gt; 1:</text>
<text x="1176" y="78.5" fill="#ffff00" font-size="13" text-anchor="end" >2.498566 GHz</text>
<text x="1266" y="78.5" fill="#ffff00" font-size="13" text-anchor="end" >-1.793 dB</text>
<text x="1062.5" y="318.5" fill="#00ffff" font-size="13" text-anchor="start" >&gt; 1:</text>
<text x="1176" y="318.5" fill="#00ffff" font-size="13" text-anchor="end" >1.895324 GHz</text>
<text x="1266" y="318.5" fill="#00ffff" font-size="13" text-anchor="end" >-1.655 dB</text>
<text x="424.0" y="624.5" fill="#ffff00" font-size="13" text-anchor="start" >&gt; 1:</text>
<text x="537.5" y="624.5" fill="#ffff00" font-size="13" text-anchor="end" >2.514965 GHz</text>
<text x="627.5" y="624.5" fill="#ffff00" font-size="13" text-anchor="end" >13.71508 ns</text>
<text x="1062.5" y="558.5" fill="#ffff00" font-size="13" text-anchor="start" >&gt; 1:</text>
<text x="1176" y="558.5" fill="#ffff00" font-size="13" text-anchor="end" >2.424895 GHz</text>
<text x="1266" y="558.5" fill="#ffff00" font-size="13" text-anchor="end" >141.49 °</text>
<text x="1175.5" y="110.0" fill="#ffff00" font-size="13" text-anchor="end"  >BW:</text>
<text x="1265.5" y="110.0" fill="#ffff00" font-size="13" text-anchor="end" >448.057 MHz</text>
<text x="1175.5" y="130.6" fill="#ffff00" font-size="13" text-anchor="end"  >Center:</text>
<text x="1265.5" y="130.6" fill="#ffff00" font-size="13" text-anchor="end" >2.493 GHz</text>
<text x="1175.5" y="151.2" fill="#ffff00" font-size="13" text-anchor="end"  >Low:</text>
<text x="1265.5" y="151.2" fill="#ffff00" font-size="13" text-anchor="end" >2.269 GHz</text>
<text x="1175.5" y="171.8" fill="#ffff00" font-size="13" text-anchor="end"  >High:</text>
<text x="1265.5" y="171.8" fill="#ffff00" font-size="13" text-anchor="end" >2.717 GHz</text>
<text x="1175.5" y="192.4" fill="#ffff00" font-size="13" text-anchor="end"  >Q:</text>
<text x="1265.5" y="192.4" fill="#ffff00" font-size="13" text-anchor="end" >5.564</text>
<text x="1175.5" y="213.0" fill="#d8d800" font-size="13" text-anchor="end"  stroke="#000" stroke-width="1.2" stroke-opacity="0.75" paint-order="stroke">Loss:</text>
<text x="1265.5" y="213.0" fill="#d8d800" font-size="13" text-anchor="end" stroke="#000" stroke-width="1.2" stroke-opacity="0.75" paint-order="stroke">-1.781 dB</text>
<text x="1175.5" y="350.0" fill="#00ffff" font-size="13" text-anchor="end"  >BW:</text>
<text x="1265.5" y="350.0" fill="#00ffff" font-size="13" text-anchor="end" >34.523 MHz</text>
<text x="1175.5" y="370.6" fill="#00ffff" font-size="13" text-anchor="end"  >Center:</text>
<text x="1265.5" y="370.6" fill="#00ffff" font-size="13" text-anchor="end" >1.9 GHz</text>
<text x="1175.5" y="391.2" fill="#00ffff" font-size="13" text-anchor="end"  >Low:</text>
<text x="1265.5" y="391.2" fill="#00ffff" font-size="13" text-anchor="end" >1.883 GHz</text>
<text x="1175.5" y="411.8" fill="#00ffff" font-size="13" text-anchor="end"  >High:</text>
<text x="1265.5" y="411.8" fill="#00ffff" font-size="13" text-anchor="end" >1.917 GHz</text>
<text x="1175.5" y="432.4" fill="#00ffff" font-size="13" text-anchor="end"  >Q:</text>
<text x="1265.5" y="432.4" fill="#00ffff" font-size="13" text-anchor="end" >55.029</text>
<text x="1175.5" y="453.0" fill="#00d0d0" font-size="13" text-anchor="end"  stroke="#000" stroke-width="1.2" stroke-opacity="0.75" paint-order="stroke">Loss:</text>
<text x="1265.5" y="453.0" fill="#00d0d0" font-size="13" text-anchor="end" stroke="#000" stroke-width="1.2" stroke-opacity="0.75" paint-order="stroke">-1.655 dB</text>
<text x="537.5" y="322.5" fill="#ffff00" font-size="13" text-anchor="end" textLength="78" lengthAdjust="spacing" >Peak to Peak</text>
<text x="627.5" y="322.5" fill="#ffff00" font-size="13" text-anchor="end" >37.19 dB</text>
<text x="537.5" y="343.1" fill="#ffff00" font-size="13" text-anchor="end"  >Mean:</text>
<text x="627.5" y="343.1" fill="#ffff00" font-size="13" text-anchor="end" >33.22 dB</text>
<text x="537.5" y="363.7" fill="#ffff00" font-size="13" text-anchor="end" textLength="57.5" lengthAdjust="spacing" >Std. Dev.:</text>
<text x="627.5" y="363.7" fill="#ffff00" font-size="13" text-anchor="end" >7.55 dB</text>
<text x="537.5" y="562.5" fill="#ffff00" font-size="13" text-anchor="end" textLength="78" lengthAdjust="spacing" >Peak to Peak</text>
<text x="627.5" y="562.5" fill="#ffff00" font-size="13" text-anchor="end" >5.92 ns</text>
<text x="537.5" y="583.1" fill="#ffff00" font-size="13" text-anchor="end"  >Mean:</text>
<text x="627.5" y="583.1" fill="#ffff00" font-size="13" text-anchor="end" >14.65 ns</text>
<text x="537.5" y="603.7" fill="#ffff00" font-size="13" text-anchor="end" textLength="57.5" lengthAdjust="spacing" >Std. Dev.:</text>
<text x="627.5" y="603.7" fill="#ffff00" font-size="13" text-anchor="end" >1.33 ns</text>
<text x="1164" y="485" fill="#00ffff" font-size="18.5" text-anchor="start" >Tr 2 :</text>
<text x="1211" y="485" fill="#00e000" font-size="18.5" text-anchor="start" >PASS</text>
<text x="10" y="785.6" fill="#e6e6e6" font-size="12" text-anchor="start" letter-spacing="0.2">Tr 1</text>
<text x="59" y="785.6" fill="#e6e6e6" font-size="12" text-anchor="start" letter-spacing="0.2">Ch 4</text>
<text x="113" y="785.6" fill="#e6e6e6" font-size="12" text-anchor="start" letter-spacing="0.2">IntTrig</text>
<text x="176" y="785.6" fill="#e6e6e6" font-size="12" text-anchor="start" letter-spacing="0.2">Continuous</text>
<text x="268" y="785.6" fill="#e6e6e6" font-size="12" text-anchor="start" letter-spacing="0.2">BW=10 k</text>
<text x="345" y="785.6" fill="#e6e6e6" font-size="12" text-anchor="start" letter-spacing="0.2">No Cor</text>
<text x="413" y="785.6" fill="#5a5a5a" font-size="12" text-anchor="start" letter-spacing="0.2">SrcCal</text>
<text x="478" y="785.6" fill="#e6e6e6" font-size="12" text-anchor="start" letter-spacing="0.2">RF On</text>
<text x="541" y="785.6" fill="#e6e6e6" font-size="12" text-anchor="start" letter-spacing="0.2">IntRef</text>
<text x="602" y="785.6" fill="#e6e6e6" font-size="12" text-anchor="start" letter-spacing="0.2">Update On</text>
<text x="698" y="785.6" fill="#6a6a6a" font-size="12" text-anchor="start" letter-spacing="0.2">no messages</text>
<text x="1170" y="785.6" fill="#e6e6e6" font-size="12" text-anchor="start" letter-spacing="0.2">2020-11-10 17:46</text>
<path d="M679.5,772V792M1151.5,772V792" stroke="#3a3a3a" shape-rendering="crispEdges"/>
<g id="toolbar">
<rect x="510" y="0" width="40" height="39" fill="#333"/>
<path d="M102.5,7V31M204.5,7V31M400.5,7V31M502.5,7V31M1173.5,7V31" stroke="#2c2c2c" shape-rendering="crispEdges"/>
<!-- logo -->
<g transform="translate(0,25.1) skewX(-4) translate(0,-25.1)" fill="none" stroke="#f6f4ef" stroke-width="3" stroke-linejoin="round">
<path d="M19.9,13.5H12.6Q10.5,13.5 10.5,15.4V16.6Q10.5,18.5 12.6,18.5H16.6Q18.7,18.5 18.7,20.4V21.7Q18.7,23.6 16.6,23.6H9.4"/>
<path d="M24.5,12V25.1" stroke-width="3.3"/>
<path d="M40.2,13.5H32Q29.9,13.5 29.9,15.5V21.6Q29.9,23.6 32,23.6H38.8V19H35.2"/>
<path d="M43.6,12V21.6Q43.6,23.6 45.6,23.6H52.4"/>
<path d="M64,13.5H57.2Q55.2,13.5 55.2,15.5V21.6Q55.2,23.6 57.2,23.6H64M56,18.5H63.4"/>
<path d="M65.7,25.1V12H69.3L74.3,20.3V12H77.3V25.1H73.8L68.7,16.8V25.1Z" fill="#f6f4ef" stroke="none"/>
<path d="M78,13.5H92.3M85.1,13.5V25.1"/>
</g>
<!-- undo -->
<path id="undo" d="M121,10.2L121,22L130.7,22L128.7,18.8Q132.3,15.3 135.6,17.4Q138.2,21 134.4,28.2Q141.8,20.5 139.7,14.6Q136.4,9.4 129,10.9Q125.6,11.7 123.4,13.2Z" fill="#c8c8c8"/>
<!-- redo -->
<path d="M121,10.2L121,22L130.7,22L128.7,18.8Q132.3,15.3 135.6,17.4Q138.2,21 134.4,28.2Q141.8,20.5 139.7,14.6Q136.4,9.4 129,10.9Q125.6,11.7 123.4,13.2Z" fill="#3c3c3c" transform="translate(306.9,0) scale(-1,1)"/>
<!-- trace add -->
<path d="M218.2,29.6C224,28 226,6.6 232,6.6C237,6.6 238,17 240.5,22" fill="none" stroke="#c8c8c8" stroke-width="1.7" stroke-linecap="round"/>
<path d="M218.8,18.6H245" stroke="#e8e8e8" stroke-width="1" stroke-dasharray="2.2,1.3"/>
<path d="M231.5,9V32" stroke="#e8e8e8" stroke-width="1" stroke-dasharray="2.6,1.3"/>
<circle cx="240.5" cy="27.5" r="6" fill="#2d9640" stroke="#c0c0c0" stroke-width="0.9"/>
<path d="M237,27.5H244M240.5,24V31" stroke="#fff" stroke-width="1.4"/>
<!-- window add -->
<rect x="267" y="7.8" width="24.2" height="21.4" rx="1.5" fill="#1a1a1a" stroke="#c4c4c4" stroke-width="1.8"/>
<rect x="267" y="7.8" width="24.2" height="4.4" fill="#c4c4c4"/>
<rect x="268.4" y="9.2" width="3.6" height="1.5" fill="#1a1a1a"/>
<circle cx="287.5" cy="27.5" r="6" fill="#2d9640" stroke="#c0c0c0" stroke-width="0.9"/>
<path d="M284,27.5H291M287.5,24V31" stroke="#fff" stroke-width="1.4"/>
<!-- marker add -->
<path d="M325.9,7.2L332.1,17.6L325.9,27.3L319.8,17.6Z" fill="#c8c8c8"/>
<rect x="315.9" y="28.1" width="14" height="2" fill="#c8c8c8"/>
<circle cx="334.7" cy="27.5" r="6" fill="#2d9640" stroke="#c0c0c0" stroke-width="0.9"/>
<path d="M331.2,27.5H338.2M334.7,24V31" stroke="#fff" stroke-width="1.4"/>
<!-- trash -->
<path d="M363.2,11.8L382.4,9" stroke="#c4c4c4" stroke-width="2.7" stroke-linecap="round"/>
<path d="M369.2,10.2Q372.3,6.6 376.3,8.9" stroke="#c4c4c4" stroke-width="2" fill="none"/>
<path d="M364.3,14.5H382.2L381.2,30.6Q381.1,31.6 380,31.6H366.7Q365.6,31.6 365.5,30.6Z" fill="#c4c4c4"/>
<path d="M367.8,17.5V29M372.2,17.5V29M376.6,17.5V29" stroke="#1a1a1a" stroke-width="1.9"/>
<circle cx="382" cy="27.5" r="6" fill="#e05252"/>
<path d="M379.4,24.9L384.6,30.1M384.6,24.9L379.4,30.1" stroke="#f6c8c8" stroke-width="1.1"/>
<!-- save -->
<path d="M418.5,7.8H435.5L438.9,11.2V28.5Q438.9,30 437.4,30H418.5Q417,30 417,28.5V9.3Q417,7.8 418.5,7.8Z" fill="#c8c8c8"/>
<path d="M422.3,7.8V15.6H434.2V7.8" fill="none" stroke="#1a1a1a" stroke-width="1.8"/>
<rect x="429" y="9" width="2.2" height="3.9" fill="#1a1a1a"/>
<path d="M421.1,30V20H435.2V30" fill="none" stroke="#1a1a1a" stroke-width="1.9"/>
<!-- open -->
<path d="M472.3,16.4V11.7H468L475,6.9L482,11.7H478.1V16.4Z" fill="#8c8c8c"/>
<path d="M463.1,14.2Q463.1,12.9 464.4,12.9H471.5L472.3,15.4H483Q484,15.4 484,16.6V19.1H466.4L463.1,29Z" fill="#c2c2c2"/>
<path d="M466.6,19.6H487.2L484.3,30H463.9Z" fill="#c2c2c2" stroke="#1a1a1a" stroke-width="0.6"/>
<!-- camera -->
<path d="M518.4,10.9H523.4L524.4,9H535.5L536.5,10.9H541.5Q543,10.9 543,12.4V27.4Q543,28.9 541.5,28.9H518.4Q516.9,28.9 516.9,27.4V12.4Q516.9,10.9 518.4,10.9Z" fill="#c2c2c2"/>
<circle cx="529.9" cy="19.9" r="5.2" fill="none" stroke="#333" stroke-width="1.6"/>
<circle cx="520.4" cy="14.5" r="1.3" fill="#333"/>
<!-- cursor -->
<path d="M544.6,23.4L556.3,27.7L552.6,30L558,35.4L556.3,36.9L551,31.6L548.5,35.4Z" fill="#fff" stroke="#222" stroke-width="0.7"/>
<!-- list/link -->
<path d="M1134,7.8h14v5.1h-14zM1150.9,7.8h6.1v5.1h-6.1zM1134,16h14v4.9h-14zM1150.9,16h6.1v4.9h-6.1zM1134,24h8v4.9h-8z" fill="#c8c8c8"/>
<path d="M1150.3,24.3H1148.2A2.9,2.9 0 0 0 1148.2,30.3H1150.3M1153.2,24.3H1155.3A2.9,2.9 0 0 1 1155.3,30.3H1153.2" fill="none" stroke="#e4e4e4" stroke-width="1.9"/>
<path d="M1149.5,25.2L1154,29.4" stroke="#e4e4e4" stroke-width="1.6"/>
<!-- network -->
<g fill="none" stroke="#fff" stroke-width="1.3">
<rect x="1199.4" y="11.4" width="5.2" height="5"/>
<path d="M1202,16.4V18.6M1193.8,18.7H1210.2M1197.7,18.7V21.5M1206.5,18.7V21.5" />
<rect x="1195" y="21.8" width="5.4" height="4.8"/>
<rect x="1203.8" y="21.8" width="5.4" height="4.8"/>
</g>
<path d="M1202.3,18.6L1210,26.8M1210,18.6L1202.3,26.8" stroke="#ff0000" stroke-width="1.9"/>
<text x="1240" y="22.8" fill="#f0f0f0" font-size="12" letter-spacing="0.3">Local</text>
</g>

</svg></body></html>
